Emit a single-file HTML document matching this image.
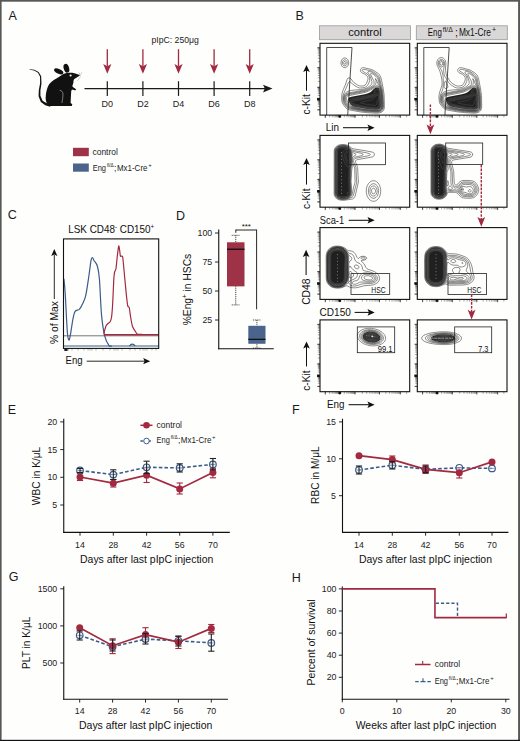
<!DOCTYPE html><html><head><meta charset="utf-8"><style>html,body{margin:0;padding:0;background:#fff;overflow:hidden}svg{display:block}text{font-family:"Liberation Sans",sans-serif}</style></head><body>
<svg width="520" height="741" viewBox="0 0 520 741">
<defs>
<marker id="ah" viewBox="0 0 10 10" refX="10" refY="5" markerWidth="6" markerHeight="6" orient="auto-start-reverse"><path d="M0 0 L10 5 L0 10 Z" fill="#1a1a1a"/></marker>
</defs>
<rect x="0" y="0" width="520" height="741" fill="#fefefd"/>
<text x="8.6" y="19.6" font-size="12.5" fill="#1a1a1a">A</text>
<path d="M49.8 105.9 C46.5 104.5 45.2 100 45.8 96 C46 92 47.5 86 49.8 83.4 C52 81 55 79.3 59.6 76.5 C61 75.6 62 74.8 63 74.2 C66 73 70 72.6 73.5 73 C76 73.6 78 74.4 80 75.3 C78.5 76.5 76.5 77.8 74.6 78.8 C73.6 79.8 73.3 81 73.5 82.2 C73 84 72.5 85.5 72.3 86.3 L73.5 87.4 C74.6 88 75.6 88.8 76.3 89.7 C75.5 90.2 74.6 90.4 73.8 90.1 C73 89.8 72.5 89.4 72.1 89.4 C71.5 90 71.2 91 71.2 91.5 C71 95 70.8 99 70.6 103 C71.5 103.6 72.3 104 72.3 104.7 L71.7 105.9 Z" fill="#111"/>
<path d="M29.55 69.85 L34.07 70.48 L37.96 72.74 L40.04 76.63 L40.11 83.35 L38.79 90.22 L38.57 96.18 L40.84 101.96 L45.28 105.32 L50.15 106.76 L50.85 104.04 L46.32 103.08 L42.56 100.64 L40.43 95.82 L40.41 90.38 L41.49 83.45 L41.16 76.37 L38.64 72.06 L34.33 69.72 L29.65 69.15Z" fill="#111"/>
<ellipse cx="58.7" cy="71.4" rx="5" ry="2.3" transform="rotate(25 58.7 71.4)" fill="#111"/>
<ellipse cx="66.4" cy="68.3" rx="2.7" ry="4.5" transform="rotate(-17 66.4 68.3)" fill="#111"/>
<circle cx="70.6" cy="75.5" r="1.05" fill="#fff"/>
<path d="M59.6 90.3 C61.5 90.6 62.8 91.6 63 94 C63.1 97 62.4 100 61.9 103" fill="none" stroke="#cfcfcf" stroke-width="0.55"/>
<path d="M79.3 73.8 L80.6 76.6 M80.2 77 L77.6 80.8 M80.8 74.6 L81.9 72.2 M79 72.4 L80.2 75" fill="none" stroke="#777" stroke-width="0.35"/>
<line x1="84.5" y1="88.6" x2="266" y2="88.6" stroke="#1a1a1a" stroke-width="1.2"/>
<path d="M272.5 88.6 L263 84.8 L264.8 88.6 L263 92.4 Z" fill="#1a1a1a"/>
<line x1="107.3" y1="81.2" x2="107.3" y2="95.9" stroke="#1a1a1a" stroke-width="1.2"/>
<line x1="107.3" y1="49.2" x2="107.3" y2="66" stroke="#a2293f" stroke-width="1.3"/>
<path d="M103.2 64.0 L107.3 66.2 L111.39999999999999 64.0 L107.3 73.8 Z" fill="#a2293f"/>
<text x="107.3" y="107" font-size="9" text-anchor="middle" fill="#222">D0</text>
<line x1="142.9" y1="81.2" x2="142.9" y2="95.9" stroke="#1a1a1a" stroke-width="1.2"/>
<line x1="142.9" y1="49.2" x2="142.9" y2="66" stroke="#a2293f" stroke-width="1.3"/>
<path d="M138.8 64.0 L142.9 66.2 L147.0 64.0 L142.9 73.8 Z" fill="#a2293f"/>
<text x="142.9" y="107" font-size="9" text-anchor="middle" fill="#222">D2</text>
<line x1="178.5" y1="81.2" x2="178.5" y2="95.9" stroke="#1a1a1a" stroke-width="1.2"/>
<line x1="178.5" y1="49.2" x2="178.5" y2="66" stroke="#a2293f" stroke-width="1.3"/>
<path d="M174.4 64.0 L178.5 66.2 L182.6 64.0 L178.5 73.8 Z" fill="#a2293f"/>
<text x="178.5" y="107" font-size="9" text-anchor="middle" fill="#222">D4</text>
<line x1="214.1" y1="81.2" x2="214.1" y2="95.9" stroke="#1a1a1a" stroke-width="1.2"/>
<line x1="214.1" y1="49.2" x2="214.1" y2="66" stroke="#a2293f" stroke-width="1.3"/>
<path d="M210.0 64.0 L214.1 66.2 L218.2 64.0 L214.1 73.8 Z" fill="#a2293f"/>
<text x="214.1" y="107" font-size="9" text-anchor="middle" fill="#222">D6</text>
<line x1="249.7" y1="81.2" x2="249.7" y2="95.9" stroke="#1a1a1a" stroke-width="1.2"/>
<line x1="249.7" y1="49.2" x2="249.7" y2="66" stroke="#a2293f" stroke-width="1.3"/>
<path d="M245.6 64.0 L249.7 66.2 L253.79999999999998 64.0 L249.7 73.8 Z" fill="#a2293f"/>
<text x="249.7" y="107" font-size="9" text-anchor="middle" fill="#222">D8</text>
<text x="151.5" y="43.4" font-size="9" textLength="47.3" lengthAdjust="spacingAndGlyphs" fill="#222">pIpC: 250μg</text>
<rect x="73" y="147.8" width="15.8" height="8.4" fill="#9e3246"/>
<rect x="73" y="163.5" width="15.8" height="8.2" fill="#4a648c"/>
<text x="92.5" y="155.2" font-size="8.8" textLength="25.3" lengthAdjust="spacingAndGlyphs" fill="#222">control</text>
<text x="92.75" y="171.0" font-size="8.8" textLength="13.25" lengthAdjust="spacingAndGlyphs" fill="#222">Eng</text>
<text x="106.9" y="166.9" font-size="6.0" textLength="6.85" lengthAdjust="spacingAndGlyphs" fill="#222">fl/Δ</text>
<text x="114.05" y="171.0" font-size="8.8" fill="#222">;</text>
<text x="116.9" y="171.0" font-size="8.8" textLength="30.6" lengthAdjust="spacingAndGlyphs" fill="#222">Mx1-Cre</text>
<text x="148.25" y="166.9" font-size="6.0" fill="#222">+</text>
<text x="295.6" y="19.8" font-size="12.5" fill="#1a1a1a">B</text>
<rect x="319.4" y="25.8" width="91" height="13.9" fill="#d9d7d7" stroke="#9a9a9a" stroke-width="0.8"/>
<rect x="416.3" y="25.8" width="91" height="13.9" fill="#d9d7d7" stroke="#9a9a9a" stroke-width="0.8"/>
<text x="365" y="35.9" font-size="10.5" text-anchor="middle" textLength="33.5" lengthAdjust="spacingAndGlyphs" fill="#111">control</text>
<text x="427.8" y="36.1" font-size="10.5" textLength="14" lengthAdjust="spacingAndGlyphs" fill="#111">Eng</text>
<text x="442.8" y="32.0" font-size="7" textLength="10" lengthAdjust="spacingAndGlyphs" fill="#111">fl/Δ</text>
<text x="455.0" y="36.1" font-size="10.5" fill="#111">;</text>
<text x="458.9" y="36.1" font-size="10.5" textLength="32" lengthAdjust="spacingAndGlyphs" fill="#111">Mx1-Cre</text>
<text x="491.9" y="32.0" font-size="7" fill="#111">+</text>
<path d="M325.3 115.1v2.2M329.6 115.1v2.2M332.2 115.1v2.2M334.0 115.1v2.2M335.4 115.1v2.2M336.5 115.1v2.2M337.5 115.1v2.2M338.3 115.1v2.2M339.0 115.1v2.2M339.7 115.1v2.2M344.3 115.1v2.2M347.0 115.1v2.2M348.9 115.1v2.2M350.4 115.1v2.2M351.6 115.1v2.2M352.6 115.1v2.2M353.5 115.1v2.2M354.3 115.1v2.2M355.0 115.1v2.2M362.4 115.1v2.2M366.7 115.1v2.2M369.8 115.1v2.2M372.1 115.1v2.2M374.1 115.1v2.2M375.7 115.1v2.2M377.1 115.1v2.2M378.4 115.1v2.2M379.5 115.1v2.2M385.8 115.1v2.2M389.4 115.1v2.2M392.0 115.1v2.2M394.0 115.1v2.2M395.7 115.1v2.2M397.1 115.1v2.2M398.3 115.1v2.2M399.3 115.1v2.2M400.3 115.1v2.2M406.6 115.1v2.2" fill="none" stroke="#3a3a3a" stroke-width="0.45"/>
<path d="M325.3 115.1v2.8M339.7 115.1v2.8M355.0 115.1v2.8M379.5 115.1v2.8M400.3 115.1v2.8" fill="none" stroke="#222" stroke-width="0.7"/>
<rect x="338.5" y="115.1" width="2.6" height="2.4" fill="#111"/>
<path d="M320.0 109.8h-2.2M320.0 106.6h-2.2M320.0 104.7h-2.2M320.0 103.4h-2.2M320.0 102.3h-2.2M320.0 101.5h-2.2M320.0 100.8h-2.2M320.0 100.1h-2.2M320.0 99.6h-2.2M320.0 99.1h-2.2M320.0 95.5h-2.2M320.0 93.5h-2.2M320.0 92.0h-2.2M320.0 90.9h-2.2M320.0 89.9h-2.2M320.0 89.1h-2.2M320.0 88.4h-2.2M320.0 87.8h-2.2M320.0 87.3h-2.2M320.0 81.4h-2.2M320.0 77.9h-2.2M320.0 75.5h-2.2M320.0 73.6h-2.2M320.0 72.0h-2.2M320.0 70.7h-2.2M320.0 69.6h-2.2M320.0 68.6h-2.2M320.0 67.7h-2.2M320.0 61.7h-2.2M320.0 58.2h-2.2M320.0 55.7h-2.2M320.0 53.8h-2.2M320.0 52.2h-2.2M320.0 50.9h-2.2M320.0 49.7h-2.2M320.0 48.7h-2.2M320.0 47.8h-2.2" fill="none" stroke="#3a3a3a" stroke-width="0.45"/>
<path d="M320.0 109.8h-2.8M320.0 99.1h-2.8M320.0 87.3h-2.8M320.0 67.7h-2.8M320.0 47.8h-2.8" fill="none" stroke="#222" stroke-width="0.7"/>
<rect x="317.1" y="97.89999999999999" width="2.6" height="2.6" fill="#111"/>
<rect x="320.0" y="43.3" width="89.7" height="71.8" fill="none" stroke="#111" stroke-width="1.1"/>
<path d="M325.3 207.2v2.2M329.6 207.2v2.2M332.2 207.2v2.2M334.0 207.2v2.2M335.4 207.2v2.2M336.5 207.2v2.2M337.5 207.2v2.2M338.3 207.2v2.2M339.0 207.2v2.2M339.7 207.2v2.2M344.3 207.2v2.2M347.0 207.2v2.2M348.9 207.2v2.2M350.4 207.2v2.2M351.6 207.2v2.2M352.6 207.2v2.2M353.5 207.2v2.2M354.3 207.2v2.2M355.0 207.2v2.2M362.4 207.2v2.2M366.7 207.2v2.2M369.8 207.2v2.2M372.1 207.2v2.2M374.1 207.2v2.2M375.7 207.2v2.2M377.1 207.2v2.2M378.4 207.2v2.2M379.5 207.2v2.2M385.8 207.2v2.2M389.4 207.2v2.2M392.0 207.2v2.2M394.0 207.2v2.2M395.7 207.2v2.2M397.1 207.2v2.2M398.3 207.2v2.2M399.3 207.2v2.2M400.3 207.2v2.2M406.6 207.2v2.2" fill="none" stroke="#3a3a3a" stroke-width="0.45"/>
<path d="M325.3 207.2v2.8M339.7 207.2v2.8M355.0 207.2v2.8M379.5 207.2v2.8M400.3 207.2v2.8" fill="none" stroke="#222" stroke-width="0.7"/>
<rect x="338.5" y="207.2" width="2.6" height="2.4" fill="#111"/>
<path d="M320.0 201.9h-2.2M320.0 198.7h-2.2M320.0 196.8h-2.2M320.0 195.5h-2.2M320.0 194.4h-2.2M320.0 193.6h-2.2M320.0 192.9h-2.2M320.0 192.2h-2.2M320.0 191.7h-2.2M320.0 191.2h-2.2M320.0 187.6h-2.2M320.0 185.6h-2.2M320.0 184.1h-2.2M320.0 183.0h-2.2M320.0 182.0h-2.2M320.0 181.2h-2.2M320.0 180.5h-2.2M320.0 179.9h-2.2M320.0 179.4h-2.2M320.0 173.5h-2.2M320.0 170.0h-2.2M320.0 167.6h-2.2M320.0 165.7h-2.2M320.0 164.1h-2.2M320.0 162.8h-2.2M320.0 161.7h-2.2M320.0 160.7h-2.2M320.0 159.8h-2.2M320.0 153.8h-2.2M320.0 150.3h-2.2M320.0 147.8h-2.2M320.0 145.9h-2.2M320.0 144.3h-2.2M320.0 143.0h-2.2M320.0 141.8h-2.2M320.0 140.8h-2.2M320.0 139.9h-2.2" fill="none" stroke="#3a3a3a" stroke-width="0.45"/>
<path d="M320.0 201.9h-2.8M320.0 191.2h-2.8M320.0 179.4h-2.8M320.0 159.8h-2.8M320.0 139.9h-2.8" fill="none" stroke="#222" stroke-width="0.7"/>
<rect x="317.1" y="190.0" width="2.6" height="2.6" fill="#111"/>
<rect x="320.0" y="135.4" width="89.7" height="71.8" fill="none" stroke="#111" stroke-width="1.1"/>
<path d="M325.3 299.4v2.2M329.6 299.4v2.2M332.2 299.4v2.2M334.0 299.4v2.2M335.4 299.4v2.2M336.5 299.4v2.2M337.5 299.4v2.2M338.3 299.4v2.2M339.0 299.4v2.2M339.7 299.4v2.2M344.3 299.4v2.2M347.0 299.4v2.2M348.9 299.4v2.2M350.4 299.4v2.2M351.6 299.4v2.2M352.6 299.4v2.2M353.5 299.4v2.2M354.3 299.4v2.2M355.0 299.4v2.2M362.4 299.4v2.2M366.7 299.4v2.2M369.8 299.4v2.2M372.1 299.4v2.2M374.1 299.4v2.2M375.7 299.4v2.2M377.1 299.4v2.2M378.4 299.4v2.2M379.5 299.4v2.2M385.8 299.4v2.2M389.4 299.4v2.2M392.0 299.4v2.2M394.0 299.4v2.2M395.7 299.4v2.2M397.1 299.4v2.2M398.3 299.4v2.2M399.3 299.4v2.2M400.3 299.4v2.2M406.6 299.4v2.2" fill="none" stroke="#3a3a3a" stroke-width="0.45"/>
<path d="M325.3 299.4v2.8M339.7 299.4v2.8M355.0 299.4v2.8M379.5 299.4v2.8M400.3 299.4v2.8" fill="none" stroke="#222" stroke-width="0.7"/>
<rect x="338.5" y="299.4" width="2.6" height="2.4" fill="#111"/>
<path d="M320.0 294.1h-2.2M320.0 290.9h-2.2M320.0 289.0h-2.2M320.0 287.7h-2.2M320.0 286.6h-2.2M320.0 285.8h-2.2M320.0 285.1h-2.2M320.0 284.4h-2.2M320.0 283.9h-2.2M320.0 283.4h-2.2M320.0 279.8h-2.2M320.0 277.8h-2.2M320.0 276.3h-2.2M320.0 275.2h-2.2M320.0 274.2h-2.2M320.0 273.4h-2.2M320.0 272.7h-2.2M320.0 272.1h-2.2M320.0 271.6h-2.2M320.0 265.7h-2.2M320.0 262.2h-2.2M320.0 259.8h-2.2M320.0 257.9h-2.2M320.0 256.3h-2.2M320.0 255.0h-2.2M320.0 253.9h-2.2M320.0 252.9h-2.2M320.0 252.0h-2.2M320.0 246.0h-2.2M320.0 242.5h-2.2M320.0 240.0h-2.2M320.0 238.1h-2.2M320.0 236.5h-2.2M320.0 235.2h-2.2M320.0 234.0h-2.2M320.0 233.0h-2.2M320.0 232.1h-2.2" fill="none" stroke="#3a3a3a" stroke-width="0.45"/>
<path d="M320.0 294.1h-2.8M320.0 283.4h-2.8M320.0 271.6h-2.8M320.0 252.0h-2.8M320.0 232.1h-2.8" fill="none" stroke="#222" stroke-width="0.7"/>
<rect x="317.1" y="282.2" width="2.6" height="2.6" fill="#111"/>
<rect x="320.0" y="227.6" width="89.7" height="71.8" fill="none" stroke="#111" stroke-width="1.1"/>
<path d="M325.3 391.7v2.2M329.6 391.7v2.2M332.2 391.7v2.2M334.0 391.7v2.2M335.4 391.7v2.2M336.5 391.7v2.2M337.5 391.7v2.2M338.3 391.7v2.2M339.0 391.7v2.2M339.7 391.7v2.2M344.3 391.7v2.2M347.0 391.7v2.2M348.9 391.7v2.2M350.4 391.7v2.2M351.6 391.7v2.2M352.6 391.7v2.2M353.5 391.7v2.2M354.3 391.7v2.2M355.0 391.7v2.2M362.4 391.7v2.2M366.7 391.7v2.2M369.8 391.7v2.2M372.1 391.7v2.2M374.1 391.7v2.2M375.7 391.7v2.2M377.1 391.7v2.2M378.4 391.7v2.2M379.5 391.7v2.2M385.8 391.7v2.2M389.4 391.7v2.2M392.0 391.7v2.2M394.0 391.7v2.2M395.7 391.7v2.2M397.1 391.7v2.2M398.3 391.7v2.2M399.3 391.7v2.2M400.3 391.7v2.2M406.6 391.7v2.2" fill="none" stroke="#3a3a3a" stroke-width="0.45"/>
<path d="M325.3 391.7v2.8M339.7 391.7v2.8M355.0 391.7v2.8M379.5 391.7v2.8M400.3 391.7v2.8" fill="none" stroke="#222" stroke-width="0.7"/>
<rect x="338.5" y="391.7" width="2.6" height="2.4" fill="#111"/>
<path d="M320.0 386.4h-2.2M320.0 383.2h-2.2M320.0 381.3h-2.2M320.0 380.0h-2.2M320.0 378.9h-2.2M320.0 378.1h-2.2M320.0 377.4h-2.2M320.0 376.7h-2.2M320.0 376.2h-2.2M320.0 375.7h-2.2M320.0 372.1h-2.2M320.0 370.1h-2.2M320.0 368.6h-2.2M320.0 367.5h-2.2M320.0 366.5h-2.2M320.0 365.7h-2.2M320.0 365.0h-2.2M320.0 364.4h-2.2M320.0 363.9h-2.2M320.0 358.0h-2.2M320.0 354.5h-2.2M320.0 352.1h-2.2M320.0 350.2h-2.2M320.0 348.6h-2.2M320.0 347.3h-2.2M320.0 346.2h-2.2M320.0 345.2h-2.2M320.0 344.3h-2.2M320.0 338.3h-2.2M320.0 334.8h-2.2M320.0 332.3h-2.2M320.0 330.4h-2.2M320.0 328.8h-2.2M320.0 327.5h-2.2M320.0 326.3h-2.2M320.0 325.3h-2.2M320.0 324.4h-2.2" fill="none" stroke="#3a3a3a" stroke-width="0.45"/>
<path d="M320.0 386.4h-2.8M320.0 375.7h-2.8M320.0 363.9h-2.8M320.0 344.3h-2.8M320.0 324.4h-2.8" fill="none" stroke="#222" stroke-width="0.7"/>
<rect x="317.1" y="374.5" width="2.6" height="2.6" fill="#111"/>
<rect x="320.0" y="319.9" width="89.7" height="71.8" fill="none" stroke="#111" stroke-width="1.1"/>
<path d="M422.6 115.1v2.2M426.9 115.1v2.2M429.5 115.1v2.2M431.3 115.1v2.2M432.7 115.1v2.2M433.8 115.1v2.2M434.8 115.1v2.2M435.6 115.1v2.2M436.3 115.1v2.2M437.0 115.1v2.2M441.6 115.1v2.2M444.3 115.1v2.2M446.2 115.1v2.2M447.7 115.1v2.2M448.9 115.1v2.2M449.9 115.1v2.2M450.8 115.1v2.2M451.6 115.1v2.2M452.3 115.1v2.2M459.7 115.1v2.2M464.0 115.1v2.2M467.1 115.1v2.2M469.4 115.1v2.2M471.4 115.1v2.2M473.0 115.1v2.2M474.4 115.1v2.2M475.7 115.1v2.2M476.8 115.1v2.2M483.1 115.1v2.2M486.7 115.1v2.2M489.3 115.1v2.2M491.3 115.1v2.2M493.0 115.1v2.2M494.4 115.1v2.2M495.6 115.1v2.2M496.6 115.1v2.2M497.6 115.1v2.2M503.9 115.1v2.2" fill="none" stroke="#3a3a3a" stroke-width="0.45"/>
<path d="M422.6 115.1v2.8M437.0 115.1v2.8M452.3 115.1v2.8M476.8 115.1v2.8M497.6 115.1v2.8" fill="none" stroke="#222" stroke-width="0.7"/>
<rect x="435.8" y="115.1" width="2.6" height="2.4" fill="#111"/>
<path d="M417.3 109.8h-2.2M417.3 106.6h-2.2M417.3 104.7h-2.2M417.3 103.4h-2.2M417.3 102.3h-2.2M417.3 101.5h-2.2M417.3 100.8h-2.2M417.3 100.1h-2.2M417.3 99.6h-2.2M417.3 99.1h-2.2M417.3 95.5h-2.2M417.3 93.5h-2.2M417.3 92.0h-2.2M417.3 90.9h-2.2M417.3 89.9h-2.2M417.3 89.1h-2.2M417.3 88.4h-2.2M417.3 87.8h-2.2M417.3 87.3h-2.2M417.3 81.4h-2.2M417.3 77.9h-2.2M417.3 75.5h-2.2M417.3 73.6h-2.2M417.3 72.0h-2.2M417.3 70.7h-2.2M417.3 69.6h-2.2M417.3 68.6h-2.2M417.3 67.7h-2.2M417.3 61.7h-2.2M417.3 58.2h-2.2M417.3 55.7h-2.2M417.3 53.8h-2.2M417.3 52.2h-2.2M417.3 50.9h-2.2M417.3 49.7h-2.2M417.3 48.7h-2.2M417.3 47.8h-2.2" fill="none" stroke="#3a3a3a" stroke-width="0.45"/>
<path d="M417.3 109.8h-2.8M417.3 99.1h-2.8M417.3 87.3h-2.8M417.3 67.7h-2.8M417.3 47.8h-2.8" fill="none" stroke="#222" stroke-width="0.7"/>
<rect x="414.40000000000003" y="97.89999999999999" width="2.6" height="2.6" fill="#111"/>
<rect x="417.3" y="43.3" width="89.7" height="71.8" fill="none" stroke="#111" stroke-width="1.1"/>
<path d="M422.6 207.2v2.2M426.9 207.2v2.2M429.5 207.2v2.2M431.3 207.2v2.2M432.7 207.2v2.2M433.8 207.2v2.2M434.8 207.2v2.2M435.6 207.2v2.2M436.3 207.2v2.2M437.0 207.2v2.2M441.6 207.2v2.2M444.3 207.2v2.2M446.2 207.2v2.2M447.7 207.2v2.2M448.9 207.2v2.2M449.9 207.2v2.2M450.8 207.2v2.2M451.6 207.2v2.2M452.3 207.2v2.2M459.7 207.2v2.2M464.0 207.2v2.2M467.1 207.2v2.2M469.4 207.2v2.2M471.4 207.2v2.2M473.0 207.2v2.2M474.4 207.2v2.2M475.7 207.2v2.2M476.8 207.2v2.2M483.1 207.2v2.2M486.7 207.2v2.2M489.3 207.2v2.2M491.3 207.2v2.2M493.0 207.2v2.2M494.4 207.2v2.2M495.6 207.2v2.2M496.6 207.2v2.2M497.6 207.2v2.2M503.9 207.2v2.2" fill="none" stroke="#3a3a3a" stroke-width="0.45"/>
<path d="M422.6 207.2v2.8M437.0 207.2v2.8M452.3 207.2v2.8M476.8 207.2v2.8M497.6 207.2v2.8" fill="none" stroke="#222" stroke-width="0.7"/>
<rect x="435.8" y="207.2" width="2.6" height="2.4" fill="#111"/>
<path d="M417.3 201.9h-2.2M417.3 198.7h-2.2M417.3 196.8h-2.2M417.3 195.5h-2.2M417.3 194.4h-2.2M417.3 193.6h-2.2M417.3 192.9h-2.2M417.3 192.2h-2.2M417.3 191.7h-2.2M417.3 191.2h-2.2M417.3 187.6h-2.2M417.3 185.6h-2.2M417.3 184.1h-2.2M417.3 183.0h-2.2M417.3 182.0h-2.2M417.3 181.2h-2.2M417.3 180.5h-2.2M417.3 179.9h-2.2M417.3 179.4h-2.2M417.3 173.5h-2.2M417.3 170.0h-2.2M417.3 167.6h-2.2M417.3 165.7h-2.2M417.3 164.1h-2.2M417.3 162.8h-2.2M417.3 161.7h-2.2M417.3 160.7h-2.2M417.3 159.8h-2.2M417.3 153.8h-2.2M417.3 150.3h-2.2M417.3 147.8h-2.2M417.3 145.9h-2.2M417.3 144.3h-2.2M417.3 143.0h-2.2M417.3 141.8h-2.2M417.3 140.8h-2.2M417.3 139.9h-2.2" fill="none" stroke="#3a3a3a" stroke-width="0.45"/>
<path d="M417.3 201.9h-2.8M417.3 191.2h-2.8M417.3 179.4h-2.8M417.3 159.8h-2.8M417.3 139.9h-2.8" fill="none" stroke="#222" stroke-width="0.7"/>
<rect x="414.40000000000003" y="190.0" width="2.6" height="2.6" fill="#111"/>
<rect x="417.3" y="135.4" width="89.7" height="71.8" fill="none" stroke="#111" stroke-width="1.1"/>
<path d="M422.6 299.4v2.2M426.9 299.4v2.2M429.5 299.4v2.2M431.3 299.4v2.2M432.7 299.4v2.2M433.8 299.4v2.2M434.8 299.4v2.2M435.6 299.4v2.2M436.3 299.4v2.2M437.0 299.4v2.2M441.6 299.4v2.2M444.3 299.4v2.2M446.2 299.4v2.2M447.7 299.4v2.2M448.9 299.4v2.2M449.9 299.4v2.2M450.8 299.4v2.2M451.6 299.4v2.2M452.3 299.4v2.2M459.7 299.4v2.2M464.0 299.4v2.2M467.1 299.4v2.2M469.4 299.4v2.2M471.4 299.4v2.2M473.0 299.4v2.2M474.4 299.4v2.2M475.7 299.4v2.2M476.8 299.4v2.2M483.1 299.4v2.2M486.7 299.4v2.2M489.3 299.4v2.2M491.3 299.4v2.2M493.0 299.4v2.2M494.4 299.4v2.2M495.6 299.4v2.2M496.6 299.4v2.2M497.6 299.4v2.2M503.9 299.4v2.2" fill="none" stroke="#3a3a3a" stroke-width="0.45"/>
<path d="M422.6 299.4v2.8M437.0 299.4v2.8M452.3 299.4v2.8M476.8 299.4v2.8M497.6 299.4v2.8" fill="none" stroke="#222" stroke-width="0.7"/>
<rect x="435.8" y="299.4" width="2.6" height="2.4" fill="#111"/>
<path d="M417.3 294.1h-2.2M417.3 290.9h-2.2M417.3 289.0h-2.2M417.3 287.7h-2.2M417.3 286.6h-2.2M417.3 285.8h-2.2M417.3 285.1h-2.2M417.3 284.4h-2.2M417.3 283.9h-2.2M417.3 283.4h-2.2M417.3 279.8h-2.2M417.3 277.8h-2.2M417.3 276.3h-2.2M417.3 275.2h-2.2M417.3 274.2h-2.2M417.3 273.4h-2.2M417.3 272.7h-2.2M417.3 272.1h-2.2M417.3 271.6h-2.2M417.3 265.7h-2.2M417.3 262.2h-2.2M417.3 259.8h-2.2M417.3 257.9h-2.2M417.3 256.3h-2.2M417.3 255.0h-2.2M417.3 253.9h-2.2M417.3 252.9h-2.2M417.3 252.0h-2.2M417.3 246.0h-2.2M417.3 242.5h-2.2M417.3 240.0h-2.2M417.3 238.1h-2.2M417.3 236.5h-2.2M417.3 235.2h-2.2M417.3 234.0h-2.2M417.3 233.0h-2.2M417.3 232.1h-2.2" fill="none" stroke="#3a3a3a" stroke-width="0.45"/>
<path d="M417.3 294.1h-2.8M417.3 283.4h-2.8M417.3 271.6h-2.8M417.3 252.0h-2.8M417.3 232.1h-2.8" fill="none" stroke="#222" stroke-width="0.7"/>
<rect x="414.40000000000003" y="282.2" width="2.6" height="2.6" fill="#111"/>
<rect x="417.3" y="227.6" width="89.7" height="71.8" fill="none" stroke="#111" stroke-width="1.1"/>
<path d="M422.6 391.7v2.2M426.9 391.7v2.2M429.5 391.7v2.2M431.3 391.7v2.2M432.7 391.7v2.2M433.8 391.7v2.2M434.8 391.7v2.2M435.6 391.7v2.2M436.3 391.7v2.2M437.0 391.7v2.2M441.6 391.7v2.2M444.3 391.7v2.2M446.2 391.7v2.2M447.7 391.7v2.2M448.9 391.7v2.2M449.9 391.7v2.2M450.8 391.7v2.2M451.6 391.7v2.2M452.3 391.7v2.2M459.7 391.7v2.2M464.0 391.7v2.2M467.1 391.7v2.2M469.4 391.7v2.2M471.4 391.7v2.2M473.0 391.7v2.2M474.4 391.7v2.2M475.7 391.7v2.2M476.8 391.7v2.2M483.1 391.7v2.2M486.7 391.7v2.2M489.3 391.7v2.2M491.3 391.7v2.2M493.0 391.7v2.2M494.4 391.7v2.2M495.6 391.7v2.2M496.6 391.7v2.2M497.6 391.7v2.2M503.9 391.7v2.2" fill="none" stroke="#3a3a3a" stroke-width="0.45"/>
<path d="M422.6 391.7v2.8M437.0 391.7v2.8M452.3 391.7v2.8M476.8 391.7v2.8M497.6 391.7v2.8" fill="none" stroke="#222" stroke-width="0.7"/>
<rect x="435.8" y="391.7" width="2.6" height="2.4" fill="#111"/>
<path d="M417.3 386.4h-2.2M417.3 383.2h-2.2M417.3 381.3h-2.2M417.3 380.0h-2.2M417.3 378.9h-2.2M417.3 378.1h-2.2M417.3 377.4h-2.2M417.3 376.7h-2.2M417.3 376.2h-2.2M417.3 375.7h-2.2M417.3 372.1h-2.2M417.3 370.1h-2.2M417.3 368.6h-2.2M417.3 367.5h-2.2M417.3 366.5h-2.2M417.3 365.7h-2.2M417.3 365.0h-2.2M417.3 364.4h-2.2M417.3 363.9h-2.2M417.3 358.0h-2.2M417.3 354.5h-2.2M417.3 352.1h-2.2M417.3 350.2h-2.2M417.3 348.6h-2.2M417.3 347.3h-2.2M417.3 346.2h-2.2M417.3 345.2h-2.2M417.3 344.3h-2.2M417.3 338.3h-2.2M417.3 334.8h-2.2M417.3 332.3h-2.2M417.3 330.4h-2.2M417.3 328.8h-2.2M417.3 327.5h-2.2M417.3 326.3h-2.2M417.3 325.3h-2.2M417.3 324.4h-2.2" fill="none" stroke="#3a3a3a" stroke-width="0.45"/>
<path d="M417.3 386.4h-2.8M417.3 375.7h-2.8M417.3 363.9h-2.8M417.3 344.3h-2.8M417.3 324.4h-2.8" fill="none" stroke="#222" stroke-width="0.7"/>
<rect x="414.40000000000003" y="374.5" width="2.6" height="2.6" fill="#111"/>
<rect x="417.3" y="319.9" width="89.7" height="71.8" fill="none" stroke="#111" stroke-width="1.1"/>
<text x="310.4" y="114.6" font-size="10.5" textLength="20.5" lengthAdjust="spacingAndGlyphs" transform="rotate(-90 310.4 114.6)" fill="#111">c-Kit</text>
<line x1="306.5" y1="90.7" x2="306.5" y2="69.9" stroke="#111" stroke-width="1.05"/>
<path d="M306.5 64.9 L303.2 72.10000000000001 L306.5 70.60000000000001 L309.79999999999995 72.10000000000001 Z" fill="#111"/>
<text x="310.4" y="209.0" font-size="10.5" textLength="20.5" lengthAdjust="spacingAndGlyphs" transform="rotate(-90 310.4 209.0)" fill="#111">c-Kit</text>
<line x1="306.5" y1="184.6" x2="306.5" y2="162.9" stroke="#111" stroke-width="1.05"/>
<path d="M306.5 157.9 L303.2 165.1 L306.5 163.6 L309.79999999999995 165.1 Z" fill="#111"/>
<text x="310.0" y="304.8" font-size="10.5" textLength="26.2" lengthAdjust="spacingAndGlyphs" transform="rotate(-90 310.0 304.8)" fill="#111">CD48</text>
<line x1="306.1" y1="275.1" x2="306.1" y2="254.8" stroke="#111" stroke-width="1.05"/>
<path d="M306.1 249.8 L302.8 257.0 L306.1 255.5 L309.4 257.0 Z" fill="#111"/>
<text x="310.4" y="390.8" font-size="10.5" textLength="20.5" lengthAdjust="spacingAndGlyphs" transform="rotate(-90 310.4 390.8)" fill="#111">c-Kit</text>
<line x1="306.5" y1="366.4" x2="306.5" y2="346.4" stroke="#111" stroke-width="1.05"/>
<path d="M306.5 341.4 L303.2 348.59999999999997 L306.5 347.09999999999997 L309.79999999999995 348.59999999999997 Z" fill="#111"/>
<text x="325.8" y="131.3" font-size="10.5" textLength="13.2" lengthAdjust="spacingAndGlyphs" fill="#111">Lin</text>
<line x1="343" y1="127.7" x2="371.6" y2="127.7" stroke="#111" stroke-width="1.05"/>
<path d="M374.6 127.7 L367.40000000000003 124.4 L368.90000000000003 127.7 L367.40000000000003 131.0 Z" fill="#111"/>
<text x="319.8" y="223.6" font-size="10.5" textLength="24.3" lengthAdjust="spacingAndGlyphs" fill="#111">Sca-1</text>
<line x1="348.7" y1="220.3" x2="371.7" y2="220.3" stroke="#111" stroke-width="1.05"/>
<path d="M374.7 220.3 L367.5 217.0 L369.0 220.3 L367.5 223.60000000000002 Z" fill="#111"/>
<text x="319.6" y="315.6" font-size="10.5" textLength="31.3" lengthAdjust="spacingAndGlyphs" fill="#111">CD150</text>
<line x1="354.6" y1="312.4" x2="371.7" y2="312.4" stroke="#111" stroke-width="1.05"/>
<path d="M374.7 312.4 L367.5 309.09999999999997 L369.0 312.4 L367.5 315.7 Z" fill="#111"/>
<text x="326.9" y="408.2" font-size="10.5" textLength="17.5" lengthAdjust="spacingAndGlyphs" fill="#111">Eng</text>
<line x1="348.6" y1="404.7" x2="371.6" y2="404.7" stroke="#111" stroke-width="1.05"/>
<path d="M374.6 404.7 L367.40000000000003 401.4 L368.90000000000003 404.7 L367.40000000000003 408.0 Z" fill="#111"/>
<path transform="scale(.1)" d="M3762 876l8 -2 8 1 7 5 5 6 6 14 11 53 3 107 -5 20 -10 11 -13 5 -17 1 -73 -4 -67 -10 -67 -13 -23 -6 -15 -7 -13 -11 -14 -20 -7 -18 -3 -17 2 -11 7 -6 23 -7 133 -25 34 -10 26 -12 33 -32 19 -12z" fill="#202020"/>
<path transform="scale(.1)" d="M3438 580l14 -1 16 7 11 12 7 20 0 20 -7 20 -11 12 -16 7 -14 -2 -13 -7 -9 -12 -6 -18 0 -18 5 -17 10 -15 13 -8M3622 678l13 -2 17 4 48 11 30 10 54 35 11 12 11 20 10 35 15 77 10 66 3 107 -1 27 -5 18 -10 15 -18 11 -20 6 -22 2 -93 -5 -67 -7 -110 -20 -23 -8 -15 -12 -24 -30 -12 -20 -6 -20 -2 -32 1 -22 4 -23 11 -35 25 -58 12 -42 9 -15 12 -5 12 4 8 7 20 27 12 12 33 22 20 9 23 2 22 -4 12 -7 12 -15 14 -35 2 -12 -2 -15 -5 -10 -11 -11 -12 -9 -32 -16 -10 -9 -4 -10 1 -12 6 -10 11 -8M3442 598l10 0 10 5 7 10 3 10 0 13 -4 10 -8 9 -10 4 -10 -2 -8 -5 -5 -9 -3 -10 0 -13 4 -10 7 -8 7 -4M3626 696l6 -3 18 2 53 11 22 7 50 35 10 12 11 20 16 70 10 38 9 58 4 100 -1 30 -4 17 -10 14 -15 9 -20 6 -20 1 -95 -6 -62 -7 -106 -20 -20 -7 -14 -11 -23 -26 -12 -21 -4 -15 -1 -17 0 -25 3 -18 53 -122 6 -10 5 -2 7 3 27 24 26 18 23 13 17 6 27 -1 28 -6 17 -10 12 -15 11 -22 7 -20 0 -18 -4 -18 -5 -12 -18 -19 -46 -29 -2 -7 4 -7M3442 616l6 -2 4 1 7 8 -1 13 -8 6 -8 -1 -5 -8 0 -10 5 -7M3679 718l11 -2 10 1 15 3 7 3 44 33 15 17 9 17 11 56 15 44 9 56 5 102 -2 28 -5 17 -11 12 -17 8 -15 3 -20 1 -100 -7 -52 -7 -100 -19 -20 -8 -16 -10 -24 -30 -10 -20 -4 -33 4 -27 10 -19 20 -17 22 -10 28 -6 30 -4 57 -4 43 -8 28 -12 21 -16 14 -12 7 -12 1 -20 -9 -31 -13 -32 -20 -27 0 -6 2 -2M3707 736l3 -3 8 2 15 8 25 20 15 17 8 13 13 55 15 35 5 22 8 58 3 97 -3 20 -5 13 -7 7 -8 5 -22 7 -25 0 -68 -4 -69 -8 -80 -15 -33 -9 -20 -10 -12 -10 -15 -18 -8 -12 -6 -13 -3 -17 0 -23 3 -15 6 -10 10 -10 18 -7 150 -28 24 -6 32 -14 47 -27 7 -8 3 -8 -1 -30 -12 -20 -15 -30 -6 -14 0 -10M3752 788l3 -1 1 3 4 1 2 5 3 2 15 42 21 36 8 24 9 58 3 90 -2 30 -4 10 -6 8 -17 9 -27 3 -80 -5 -60 -7 -80 -15 -25 -6 -26 -12 -17 -15 -20 -25 -8 -20 -2 -17 1 -16 4 -12 6 -8 10 -6 14 -5 171 -33 25 -10 42 -23 25 -15 11 -12 4 -18 0 -25 -8 -15M3763 858l9 -2 8 4 9 8 7 10 8 22 9 50 4 90 0 26 -6 20 -5 7 -8 6 -16 4 -17 2 -80 -6 -67 -8 -83 -17 -20 -7 -17 -11 -24 -26 -14 -19 -6 -18 0 -20 6 -14 10 -8 18 -5 140 -27 30 -7 40 -18 65 -36M3763 868l9 -1 8 2 8 7 7 9 5 15 10 53 4 87 -1 26 -5 18 -6 6 -8 6 -14 4 -18 1 -80 -6 -67 -9 -80 -17 -17 -8 -14 -11 -21 -25 -15 -25 -4 -12 0 -12 4 -10 7 -6 15 -4 138 -27 32 -8 38 -16 49 -29 16 -8" fill="none" stroke="#1c1c1c" stroke-width="5.0"/>
<path transform="scale(.1)" d="M3765 883l13 0 4 3 6 7 5 15 11 50 2 100 -5 20 -9 10 -17 5 -25 0 -72 -6 -72 -12 -56 -12 -18 -5 -15 -10 -13 -18 -6 -14 0 -13 7 -9 10 -6 15 -4 166 -31 21 -5 12 -5 6 -5 6 -8 4 -25 4 -9 7 -8 9 -5M3769 893l9 1 7 9 16 57 1 98 -5 18 -9 9 -16 4 -22 0 -70 -6 -62 -10 -80 -19 -16 -9 -11 -15 -4 -12 1 -9 4 -7 10 -6 173 -33 25 -6 15 -6 9 -5 8 -10 5 -13 3 -20 5 -7 4 -3M3772 928l6 -2 7 8 9 16 3 16 -1 37 1 37 -1 18 -5 15 -4 5 -7 4 -22 2 -63 -5 -85 -14 -70 -17 -15 -10 -8 -12 -1 -8 2 -8 6 -5 8 -3 123 -23 75 -17 24 -14 18 -20M3771 946l7 -2 8 4 5 8 2 12 -4 38 0 50 -5 12 -9 7 -17 2 -53 -4 -78 -13 -79 -19 -13 -7 -6 -8 -1 -6 3 -4 11 -6 98 -18 85 -18 15 -7 31 -21M3769 956l9 -2 4 2 5 10 0 10 -5 17 -11 27 -6 26 -7 7 -8 1 -17 -1 -69 -10 -46 -10 -12 -5 -1 -2 9 -5 88 -19 18 -5 15 -10 24 -24 10 -7" fill="none" stroke="#5a5a5a" stroke-width="4"/>
<path transform="scale(.1)" d="M4735 876l8 -2 7 1 8 5 5 6 6 14 11 53 3 107 -5 20 -10 11 -12 5 -18 1 -72 -4 -68 -10 -68 -13 -22 -6 -15 -7 -13 -11 -14 -20 -7 -18 -3 -17 2 -11 8 -6 22 -7 132 -25 36 -10 24 -12 34 -32 19 -12z" fill="#202020"/>
<path transform="scale(.1)" d="M4403 576l15 -1 15 6 13 12 9 17 4 23 -4 47 1 26 5 32 7 22 28 46 11 14 22 18 29 18 15 4 15 1 20 -3 12 -5 10 -7 7 -11 9 -19 6 -18 1 -12 -2 -13 -9 -15 -19 -15 -33 -16 -10 -11 -3 -10 2 -13 5 -7 9 -7 13 -3 12 2 80 21 50 30 11 9 9 10 11 20 8 25 17 87 11 73 2 100 -1 25 -6 22 -7 10 -7 7 -26 11 -30 4 -94 -6 -70 -7 -96 -17 -27 -8 -20 -14 -24 -30 -10 -15 -6 -17 -4 -55 3 -20 5 -23 21 -60 3 -22 -1 -30 -6 -38 -14 -54 -9 -23 -20 -40 -3 -20 2 -20 8 -17 11 -13 14 -7M4407 593l14 1 9 6 10 10 5 13 1 15 -9 52 0 26 5 32 6 15 22 33 13 25 10 13 20 17 35 22 18 6 17 1 27 -3 19 -7 11 -7 11 -13 17 -37 2 -13 0 -12 -8 -28 -19 -21 -46 -29 -2 -4 0 -6 5 -5 6 -2 17 2 70 16 43 27 20 20 11 17 6 15 10 53 12 45 10 65 3 95 0 25 -6 23 -12 13 -22 11 -30 3 -92 -6 -68 -7 -82 -16 -36 -9 -19 -12 -21 -25 -10 -15 -6 -15 -3 -18 -1 -27 5 -27 20 -46 4 -15 5 -57 -3 -70 -12 -48 -12 -22 -20 -32 -5 -13 -1 -10 1 -13 6 -13 9 -9 10 -5M4408 606l10 0 8 4 7 8 3 10 1 10 -4 18 -5 9 -8 7 -10 -3 -8 -9 -9 -13 -3 -9 0 -10 3 -10 7 -9 8 -3M4652 718l11 -2 10 1 15 3 8 3 43 33 15 17 9 17 11 56 15 44 9 56 5 102 -2 28 -5 17 -10 12 -18 8 -15 3 -20 1 -100 -7 -53 -7 -100 -19 -20 -8 -15 -10 -24 -30 -10 -20 -4 -33 4 -27 9 -19 20 -17 23 -10 25 -6 32 -4 58 -4 42 -8 29 -12 21 -16 14 -12 7 -12 1 -20 -9 -31 -13 -32 -20 -27 0 -6 2 -2M4450 813l3 -2 3 1 7 10 16 41 -1 7 -3 8 -5 5 -7 4 -7 -1 -8 -4 -5 -7 -3 -7 5 -37 5 -18M4407 618l6 -2 5 2 5 3 4 7 0 12 -4 8 -5 4 -5 0 -5 -2 -9 -12 1 -12 7 -8M4680 736l3 -3 7 2 16 8 25 20 15 17 8 13 13 55 15 35 5 22 8 58 3 97 -3 20 -5 13 -7 7 -7 5 -23 7 -25 0 -68 -4 -69 -8 -81 -15 -32 -9 -20 -10 -12 -10 -15 -18 -8 -12 -6 -13 -3 -17 0 -23 3 -15 6 -10 10 -10 17 -7 150 -28 26 -6 31 -14 47 -27 7 -8 3 -8 -1 -30 -12 -20 -15 -30 -6 -14 0 -10M4725 788l3 -1 1 3 4 1 2 5 3 2 15 42 21 36 8 24 9 58 3 90 -2 30 -4 10 -6 8 -16 9 -28 3 -80 -5 -60 -7 -80 -15 -25 -6 -26 -12 -17 -15 -20 -25 -8 -20 -2 -17 1 -16 4 -12 6 -8 9 -6 16 -5 170 -33 24 -10 43 -23 25 -15 11 -12 4 -18 0 -25 -8 -15M4736 858l10 -2 7 4 9 8 7 10 8 22 9 50 4 90 0 26 -6 20 -5 7 -9 6 -14 4 -18 2 -80 -6 -68 -8 -82 -17 -20 -7 -17 -11 -24 -26 -14 -19 -6 -18 0 -20 6 -14 10 -8 17 -5 140 -27 31 -7 39 -18 66 -36M4736 868l10 -1 7 2 8 7 7 9 5 15 10 53 4 87 -1 26 -6 18 -5 6 -8 6 -14 4 -17 1 -80 -6 -68 -9 -80 -17 -18 -8 -13 -11 -21 -25 -15 -25 -4 -12 0 -12 3 -10 8 -6 15 -4 137 -27 33 -8 37 -16 50 -29 16 -8" fill="none" stroke="#1c1c1c" stroke-width="5.0"/>
<path transform="scale(.1)" d="M4738 883l12 0 6 3 5 7 5 15 11 50 2 100 -5 20 -9 10 -17 5 -25 0 -73 -6 -71 -12 -56 -12 -17 -5 -16 -10 -13 -18 -6 -14 0 -13 7 -9 10 -6 15 -4 166 -31 21 -5 12 -5 6 -5 6 -8 4 -25 4 -9 7 -8 9 -5M4742 893l8 1 8 9 16 57 1 98 -5 18 -10 9 -14 4 -23 0 -70 -6 -62 -10 -81 -19 -14 -9 -12 -15 -4 -12 1 -9 5 -7 10 -6 172 -33 25 -6 15 -6 9 -5 9 -10 4 -13 3 -20 5 -7 4 -3M4745 928l5 -2 8 8 9 16 3 16 -1 37 1 37 -1 18 -5 15 -4 5 -7 4 -23 2 -62 -5 -85 -14 -70 -17 -15 -10 -8 -12 -1 -8 2 -8 6 -5 9 -3 122 -23 75 -17 24 -14 18 -20M4744 946l6 -2 9 4 5 8 2 12 -4 38 0 50 -5 12 -9 7 -18 2 -52 -4 -78 -13 -80 -19 -12 -7 -6 -8 -1 -6 3 -4 12 -6 97 -18 85 -18 15 -7 31 -21M4742 956l8 -2 6 2 4 10 0 10 -4 17 -12 27 -6 26 -7 7 -8 1 -17 -1 -69 -10 -46 -10 -12 -5 -1 -2 9 -5 89 -19 17 -5 15 -10 24 -24 10 -7" fill="none" stroke="#5a5a5a" stroke-width="4"/>
<path transform="scale(.1)" d="M3407 1469l21 -2 22 1 18 5 12 6 12 12 10 15 9 23 4 17 -5 58 -1 50 -5 35 -2 45 -2 82 5 93 -1 30 -6 17 -13 12 -20 8 -23 4 -34 -1 -23 -8 -9 -7 -6 -8 -5 -9 -2 -13 1 -423 3 -15 9 -12 12 -9 17 -6z" fill="#202020"/>
<path transform="scale(.1)" d="M3407 1446l35 -1 28 5 20 9 28 23 14 6 136 22 60 12 7 4 5 6 4 12 -1 8 -4 7 -11 9 -60 12 -90 15 -16 6 -5 5 -2 10 2 10 16 38 3 10 8 147 -33 141 -5 9 -5 8 -16 11 -83 13 -22 0 -20 -3 -18 -5 -12 -7 -11 -9 -9 -12 -7 -15 -2 -16 1 -430 6 -22 13 -18 21 -13 25 -7M3721 1809l14 -2 15 2 15 7 13 11 11 15 8 14 6 20 4 20 0 23 -3 20 -5 20 -7 15 -11 15 -13 13 -13 7 -15 4 -15 -1 -13 -4 -12 -8 -10 -9 -10 -15 -8 -14 -5 -18 -4 -20 1 -38 5 -20 8 -17 9 -15 12 -12 12 -9 11 -4M3403 1454l35 -2 27 4 13 5 12 7 28 28 12 8 135 24 28 8 10 8 -2 5 -6 4 -23 7 -112 22 -15 7 -7 7 -2 13 1 10 23 57 7 150 -34 130 -3 8 -8 7 -12 6 -38 14 -27 5 -40 -2 -15 -3 -15 -8 -11 -9 -8 -10 -5 -12 -3 -16 0 -430 5 -17 12 -16 17 -12 21 -7M3722 1839l10 -2 10 1 10 3 10 7 8 8 8 13 8 28 -1 30 -9 27 -6 10 -10 10 -10 6 -10 3 -10 0 -10 -3 -10 -6 -8 -7 -12 -21 -6 -24 1 -28 7 -25 13 -19 17 -11M3419 1456l31 1 22 6 21 13 24 31 11 8 80 17 14 5 10 7 -2 5 -15 7 -70 17 -9 6 -6 7 -5 18 2 20 6 22 14 33 4 143 -15 50 -13 67 -6 20 -15 13 -22 11 -22 6 -23 3 -20 -1 -17 -3 -13 -4 -12 -8 -10 -10 -6 -10 -4 -12 -1 -15 1 -423 7 -20 13 -14 19 -11 27 -5M3730 1859l15 2 13 9 8 14 5 20 -1 20 -8 19 -11 13 -13 5 -16 -3 -11 -9 -8 -15 -4 -20 2 -20 6 -18 11 -11 12 -6M3408 1462l20 -2 20 1 14 3 16 6 17 14 27 39 13 8 20 8 6 5 -1 4 -25 15 -6 6 -7 13 -3 17 0 20 4 47 -6 36 -6 110 5 84 0 30 -3 18 -6 15 -17 15 -22 9 -28 5 -35 -2 -13 -3 -12 -6 -10 -8 -7 -10 -5 -10 -2 -15 0 -425 5 -17 11 -15 16 -10 20 -5M3727 1884l8 -2 7 2 8 7 4 10 1 13 -3 10 -6 10 -8 4 -8 -1 -6 -3 -5 -8 -3 -10 -1 -10 2 -10 5 -7 5 -5M3415 1464l23 -1 17 2 15 5 12 7 11 9 9 13 19 38 3 9 -9 48 0 58 -6 49 -4 115 5 96 -2 30 -7 17 -15 13 -21 8 -27 5 -33 -2 -13 -4 -12 -6 -10 -9 -5 -8 -4 -12 -2 -12 1 -423 5 -17 13 -15 17 -9 20 -4M3405 1469l20 -2 23 1 17 3 15 8 11 10 10 15 10 22 5 20 -6 58 -1 50 -5 35 -1 53 -2 74 5 93 -2 30 -6 17 -13 12 -19 8 -24 5 -32 -1 -14 -4 -11 -4 -10 -8 -6 -8 -4 -10 -2 -12 0 -422 4 -16 8 -12 13 -9 17 -6" fill="none" stroke="#1c1c1c" stroke-width="5.0"/>
<path transform="scale(.1)" d="M3409 1474l21 -2 20 1 15 4 14 7 11 11 9 14 7 20 3 17 -5 100 -6 43 -2 45 -1 82 4 93 0 25 -5 18 -12 11 -18 9 -24 3 -30 -1 -22 -8 -9 -7 -6 -7 -4 -20 0 -418 3 -15 8 -12 12 -8 17 -5M3413 1482l22 -2 17 1 15 3 10 6 11 9 7 13 7 17 3 17 -1 36 -4 50 -10 60 -1 34 -3 90 7 116 -3 14 -8 11 -14 7 -20 3 -33 -1 -19 -4 -8 -6 -6 -6 -4 -8 -1 -10 0 -416 2 -12 6 -10 11 -8 17 -4M3457 1494l15 2 13 8 10 17 5 21 0 44 -6 48 -6 25 -6 9 -4 3 -9 -7 -28 -48 -8 -22 -7 -35 0 -23 6 -20 11 -14 14 -8M3476 1922l2 -2 2 3 1 11 -3 8 -6 2 -1 -2 0 -8 5 -12M3471 1509l9 2 8 7 5 14 3 17 -2 50 -6 27 -3 5 -5 3 -8 -5 -15 -23 -6 -17 -5 -33 1 -14 4 -16 9 -11 11 -6M3470 1526l8 -2 4 2 6 8 3 12 -1 46 -4 12 -6 5 -7 -3 -5 -7 -7 -30 0 -25 3 -10 6 -8" fill="none" stroke="#5a5a5a" stroke-width="4"/><path d="M341.5 152V195" stroke="#8a8a8a" stroke-width="0.7" stroke-dasharray="1.2 2.2"/>
<path transform="scale(.1)" d="M4372 1464l18 -2 19 2 17 6 14 9 8 8 7 12 16 37 2 10 -8 38 -3 70 -7 72 -3 153 -3 53 -6 14 -12 13 -18 8 -20 4 -25 -3 -20 -10 -12 -15 -5 -21 0 -413 3 -15 7 -12 12 -11 17 -7z" fill="#202020"/>
<path transform="scale(.1)" d="M4617 1886l6 2 2 4 0 4 -4 5 -5 -1 -4 -4 -1 -5 5 -4z" fill="#202020"/>
<path transform="scale(.1)" d="M4374 1442l26 -1 28 6 18 9 27 22 13 6 212 33 15 5 8 7 5 10 0 13 -6 10 -10 8 -42 8 -130 21 -11 5 -6 5 -4 7 0 10 4 23 16 65 5 110 3 15 3 5 8 5 12 -1 8 -5 15 -19 9 -8 16 -8 14 -3 28 -1 55 3 17 4 16 7 14 13 14 21 10 24 4 20 -3 21 -8 19 -14 20 -12 12 -18 9 -23 5 -47 0 -30 -3 -15 -5 -12 -7 -25 -28 -12 -10 -13 -5 -16 -1 -62 0 -4 6 -9 25 -12 15 -20 14 -23 8 -24 2 -28 -5 -20 -10 -17 -16 -9 -18 -3 -25 0 -417 7 -23 13 -17 21 -14 24 -6M4368 1449l15 -2 17 0 16 3 14 5 20 13 23 24 10 6 167 26 38 9 17 9 1 4 -3 4 -23 9 -37 8 -100 16 -23 5 -7 4 -8 7 -5 12 0 11 4 24 18 70 4 116 3 14 5 8 14 10 8 2 12 -1 15 -9 27 -28 10 -5 16 -4 22 0 45 2 17 3 13 4 14 11 11 15 11 22 3 18 -1 15 -6 17 -11 18 -11 11 -15 9 -20 4 -35 0 -32 -3 -13 -3 -10 -5 -32 -31 -23 -14 -15 -2 -50 3 -22 -7 -6 6 -7 30 -7 14 -13 14 -20 11 -27 5 -30 -3 -23 -9 -16 -15 -9 -18 -3 -22 0 -413 5 -20 11 -17 15 -12 22 -8M4378 1452l30 0 25 9 17 13 23 28 10 7 118 19 32 8 10 6 1 4 -2 3 -9 5 -33 8 -87 16 -15 8 -6 8 -4 22 1 18 20 85 0 105 2 18 9 14 13 13 15 10 8 2 10 -2 17 -10 30 -28 17 -8 20 -2 40 1 20 2 16 5 11 7 10 13 9 17 4 18 0 12 -5 15 -9 15 -10 11 -16 8 -17 3 -27 0 -33 -4 -13 -4 -10 -6 -32 -27 -25 -17 -15 -3 -32 6 -18 1 -12 -5 -13 -14 -5 7 -2 8 -5 32 -4 14 -11 16 -16 11 -12 5 -15 3 -30 0 -25 -9 -10 -7 -8 -9 -8 -17 -3 -23 1 -412 5 -20 12 -15 19 -12 22 -5M4476 1807l-3 6 -3 23 0 16 3 10 5 -3 4 -7 3 -18 -4 -22 -3 -5 -2 0M4370 1456l28 -2 28 7 12 7 11 8 8 10 13 22 10 9 80 17 16 5 4 5 -2 6 -10 4 -58 14 -14 5 -9 6 -6 7 -2 10 -1 33 4 60 -2 10 -7 15 -4 12 -6 96 0 57 -6 55 -7 18 -14 14 -18 8 -22 5 -16 -1 -14 -2 -23 -11 -9 -9 -6 -9 -3 -11 -2 -14 0 -418 4 -15 10 -15 13 -11 20 -7M4654 1844l39 1 17 3 15 6 10 10 10 20 3 20 -7 20 -13 15 -12 6 -18 3 -22 -1 -29 -5 -16 -6 -18 -9 -30 -25 -5 -8 0 -7 18 -17 30 -21 12 -4 16 -1M4495 1862l11 -1 7 6 10 12 0 8 -7 5 -8 2 -10 0 -6 -2 -5 -8 -1 -7 4 -11 5 -4M4373 1459l15 -2 15 1 15 4 15 6 18 16 17 30 8 9 12 8 27 8 6 5 0 2 -6 6 -27 11 -8 5 -7 16 -3 85 -8 57 -4 153 -5 57 -7 16 -14 12 -19 8 -20 4 -27 -4 -13 -5 -10 -6 -13 -17 -3 -10 -1 -15 0 -413 4 -17 11 -14 15 -10 17 -6M4617 1866l16 -2 28 6 32 -4 17 3 11 7 9 13 3 13 -3 14 -4 8 -8 8 -10 4 -12 2 -20 -4 -26 -11 -24 -2 -10 -3 -17 -11 -6 -8 -2 -7 5 -10 21 -16M4377 1462l16 -2 17 3 18 6 13 8 13 17 23 45 2 7 -9 26 -3 14 -3 76 -7 64 -3 153 -3 53 -6 14 -12 14 -17 8 -23 4 -27 -3 -20 -10 -8 -8 -5 -9 -4 -23 0 -413 5 -17 9 -12 15 -10 19 -5M4615 1879l11 0 4 3 5 7 0 7 -1 6 -8 6 -6 1 -7 -2 -5 -4 -4 -7 -1 -4 3 -6 9 -7M4692 1896l11 1 7 7 -1 10 -6 6 -10 0 -9 -6 -1 -5 1 -5 8 -8" fill="none" stroke="#1c1c1c" stroke-width="5.0"/>
<path transform="scale(.1)" d="M4373 1469l17 -2 18 2 16 5 14 9 8 9 7 12 9 25 3 15 -5 40 0 35 -11 110 -5 200 -5 15 -11 11 -15 7 -20 4 -25 -3 -17 -9 -8 -8 -4 -7 -3 -20 0 -410 2 -13 8 -12 12 -10 15 -5M4388 1474l15 1 15 3 12 6 10 8 7 10 6 12 6 20 1 12 -5 40 0 36 -13 110 -5 195 -4 12 -9 10 -16 7 -18 2 -22 -3 -15 -9 -5 -6 -3 -8 -2 -23 0 -400 4 -15 9 -9 15 -8 17 -3M4409 1489l17 1 7 4 7 7 11 19 4 22 0 14 -5 33 0 30 -5 33 -9 36 -6 8 -2 1 -5 -5 -4 -8 -18 -48 -8 -32 -14 -35 -3 -17 1 -20 7 -20 10 -16 7 -4 8 -3M4421 1506l9 -1 11 7 7 14 3 16 -1 16 -6 34 -2 27 -4 12 -5 3 -5 -3 -4 -7 -6 -28 -13 -30 -4 -14 1 -13 3 -13 7 -12 9 -8M4426 1522l7 -2 5 2 5 8 3 12 0 12 -3 12 -5 10 -5 3 -5 -2 -5 -7 -7 -18 1 -18 4 -8 5 -4" fill="none" stroke="#5a5a5a" stroke-width="4"/><path d="M438.5 152V194" stroke="#8a8a8a" stroke-width="0.7" stroke-dasharray="1.2 2.2"/>
<path transform="scale(.1)" d="M3349 2486l23 -2 23 1 20 5 17 8 14 13 11 17 9 20 4 20 -4 203 -5 30 -9 23 -16 17 -21 11 -25 6 -20 0 -22 -2 -16 -5 -15 -7 -12 -11 -10 -14 -6 -15 -3 -18 -2 -205 3 -35 8 -22 13 -18 17 -12 23 -8z" fill="#202020"/>
<path transform="scale(.1)" d="M3358 2461l30 0 32 6 28 13 34 26 28 3 18 6 12 8 9 11 8 12 13 27 10 11 5 0 11 -10 8 -6 18 -5 23 1 16 7 5 5 1 8 -7 10 -15 6 -33 6 -2 2 31 30 19 38 9 10 14 8 39 13 23 10 20 12 15 15 12 20 3 20 -4 20 -10 17 -21 17 -25 9 -25 5 -72 6 -58 16 -25 4 -23 0 -22 -3 -15 -5 -27 -13 -8 2 -30 13 -18 6 -27 4 -23 -1 -34 -6 -18 -8 -15 -11 -14 -15 -10 -17 -5 -16 -4 -22 -1 -205 2 -35 3 -15 7 -18 8 -12 11 -13 16 -11 14 -8 16 -5 20 -3M3500 2713l-5 7 -2 8 -2 28 4 21 3 3 4 1 13 -4 13 -9 6 -7 2 -10 -3 -10 -8 -10 -17 -15 -8 -3M3348 2468l20 -2 20 1 20 3 17 5 15 8 12 9 36 38 7 4 18 4 12 8 13 18 11 34 7 13 9 8 35 18 14 14 7 15 6 28 5 9 16 6 47 10 25 8 22 10 18 15 10 14 4 15 -2 15 -8 15 -16 13 -23 8 -23 3 -74 3 -18 4 -38 14 -24 4 -23 -1 -20 -8 -11 -10 -9 -17 -30 26 -17 12 -20 8 -28 5 -25 1 -25 -4 -20 -7 -20 -12 -11 -12 -10 -15 -7 -18 -4 -20 -1 -200 1 -37 9 -30 6 -13 10 -12 9 -9 16 -9 14 -6 16 -4M3627 2571l11 0 8 3 5 4 1 6 -5 4 -9 4 -10 0 -10 -2 -6 -6 1 -6 6 -4 8 -3M3495 2661l-6 23 -4 40 0 74 3 21 22 -15 36 -16 12 -7 12 -16 6 -24 0 -7 -5 -8 -42 -30 -9 -10 -18 -26 -4 -1 -3 2M3358 2471l24 -1 23 3 20 6 17 10 22 22 28 44 20 16 6 15 -3 14 -5 5 -10 5 -5 5 -7 21 -7 62 -2 93 -3 17 -4 13 -15 20 -19 16 -26 10 -27 5 -23 -1 -24 -4 -20 -8 -16 -10 -12 -13 -9 -15 -7 -20 -2 -20 -1 -207 4 -38 11 -25 9 -11 10 -9 25 -14 28 -6M3553 2651l15 0 15 7 4 6 2 7 -1 7 -3 5 -7 4 -10 0 -10 -3 -7 -6 -5 -7 -2 -10 4 -7 5 -3M3633 2731l22 -2 27 2 26 5 22 10 15 10 11 15 3 15 -4 12 -5 8 -10 8 -22 7 -30 2 -80 -3 -13 2 -23 14 -17 6 -17 0 -14 -6 -3 -5 0 -5 3 -5 6 -5 13 -5 27 -6 10 -6 6 -8 11 -30 8 -13 13 -11 15 -6M3366 2473l22 1 22 4 20 7 16 11 15 17 13 23 10 22 4 23 -9 85 -3 118 -6 30 -13 22 -19 17 -26 11 -32 5 -25 -2 -20 -4 -17 -7 -16 -11 -12 -14 -9 -17 -5 -18 -2 -22 0 -203 2 -20 3 -17 13 -26 18 -17 25 -12 31 -6M3652 2744l18 -2 18 2 18 4 16 7 12 9 8 10 2 10 -2 10 -6 7 -7 5 -24 6 -45 -2 -18 -4 -14 -5 -7 -5 -5 -8 -1 -10 2 -10 5 -9 8 -7 10 -5 12 -3M3371 2476l21 1 23 5 17 8 13 9 14 17 13 22 7 20 2 23 -6 95 -2 102 -2 18 -4 15 -12 23 -20 17 -25 11 -32 4 -23 -1 -20 -5 -17 -7 -16 -11 -10 -14 -9 -17 -5 -20 -1 -23 0 -197 1 -20 4 -17 13 -25 17 -17 26 -11 33 -5M3659 2758l23 -1 27 7 9 5 6 7 2 8 -1 4 -8 8 -17 4 -22 -2 -23 -5 -10 -7 -5 -10 5 -10 14 -8M3370 2478l22 2 23 4 17 9 13 10 13 15 10 20 7 23 2 20 -5 90 -1 107 -3 18 -4 15 -13 23 -19 16 -24 10 -30 4 -23 -2 -20 -4 -17 -8 -13 -10 -10 -12 -9 -17 -5 -17 -2 -26 0 -194 2 -20 3 -18 13 -25 18 -17 25 -11 30 -5M3366 2481l22 0 22 4 18 7 12 9 13 15 11 20 7 20 3 22 -4 96 -2 102 -5 30 -11 22 -18 18 -24 11 -30 4 -22 -1 -20 -4 -16 -6 -14 -10 -12 -14 -8 -15 -4 -17 -2 -20 0 -200 4 -36 10 -22 16 -18 23 -11 31 -6M3363 2484l22 -1 23 4 17 7 13 8 12 14 12 20 7 20 2 20 -5 198 -5 30 -10 22 -18 18 -23 10 -28 5 -22 -1 -20 -3 -15 -7 -15 -9 -11 -13 -8 -15 -5 -15 -2 -20 0 -200 4 -35 9 -23 16 -17 22 -12 28 -5" fill="none" stroke="#1c1c1c" stroke-width="5.0"/>
<path transform="scale(.1)" d="M3352 2488l23 -1 20 1 20 5 15 8 12 11 12 16 8 20 5 20 -5 203 -3 27 -10 23 -15 17 -19 11 -27 6 -20 0 -20 -2 -15 -5 -15 -8 -13 -12 -8 -12 -6 -15 -3 -17 0 -203 2 -35 8 -21 12 -17 18 -12 24 -8M3358 2491l22 -1 20 2 18 6 13 8 11 11 11 17 7 18 3 19 -4 200 -4 27 -10 23 -13 15 -20 10 -27 6 -20 0 -20 -3 -15 -5 -12 -8 -11 -10 -7 -12 -6 -16 -3 -17 0 -203 3 -32 8 -22 13 -16 20 -12 23 -5M3350 2496l22 -2 20 1 18 4 15 7 13 11 10 14 7 17 5 20 -4 200 -4 26 -8 22 -14 17 -20 10 -22 5 -18 0 -20 -2 -15 -5 -13 -6 -10 -9 -8 -12 -6 -16 -3 -14 0 -203 2 -33 5 -17 13 -17 15 -11 20 -7M3369 2498l19 1 17 3 15 6 10 8 11 12 9 18 5 18 1 14 -4 106 -1 87 -4 25 -9 22 -14 13 -19 9 -25 4 -20 -1 -18 -4 -13 -5 -10 -8 -8 -10 -6 -12 -4 -16 -2 -17 0 -195 3 -31 9 -19 14 -15 17 -8 27 -5M3352 2508l18 -2 18 1 20 4 10 5 12 9 10 14 7 17 3 12 1 26 -6 92 -2 88 -3 20 -7 17 -11 12 -14 8 -20 4 -18 1 -18 -2 -10 -3 -12 -6 -8 -7 -7 -10 -5 -13 -2 -14 -1 -197 2 -30 4 -16 9 -14 15 -10 15 -6" fill="none" stroke="#5a5a5a" stroke-width="4"/><path d="M337.5 254V282" stroke="#8a8a8a" stroke-width="0.7" stroke-dasharray="1.2 2.2"/>
<path transform="scale(.1)" d="M4336 2488l24 -2 23 3 20 5 17 10 13 12 11 18 7 20 4 20 1 32 -1 105 1 53 -3 22 -12 22 -18 19 -23 12 -27 6 -20 0 -20 -2 -15 -4 -15 -8 -14 -13 -11 -14 -6 -16 -3 -17 -1 -187 3 -36 9 -22 14 -18 19 -13 23 -6z" fill="#202020"/>
<path transform="scale(.1)" d="M4342 2466l21 -1 20 2 17 3 18 7 25 18 25 32 10 8 10 2 65 2 30 5 65 23 15 8 15 11 19 25 17 35 7 25 8 50 10 37 2 16 -2 14 -5 13 -9 13 -15 12 -17 11 -15 6 -18 4 -30 3 -120 2 -24 -2 -28 -9 -7 -1 -45 20 -18 4 -20 3 -22 -1 -28 -4 -20 -9 -17 -13 -14 -14 -10 -18 -6 -14 -4 -20 -1 -188 3 -38 5 -17 5 -13 10 -15 11 -11 13 -10 15 -8 15 -5 19 -3M4332 2474l24 -3 22 1 22 5 18 7 12 8 13 12 27 42 10 8 56 0 34 4 68 21 15 8 13 9 14 18 12 24 6 26 8 50 15 47 1 13 -1 10 -5 12 -7 10 -13 12 -16 9 -17 5 -20 3 -132 4 -23 -3 -25 -9 -7 0 -48 26 -18 5 -19 3 -25 -1 -23 -3 -20 -8 -17 -12 -13 -13 -10 -16 -6 -14 -3 -18 -2 -165 2 -55 3 -15 5 -15 7 -12 11 -13 13 -12 13 -7 26 -8M4342 2476l24 -1 22 3 18 5 17 9 13 10 10 12 10 17 15 30 5 7 5 3 42 -5 33 3 77 22 15 7 10 7 13 19 5 12 2 12 -3 20 -12 30 0 10 5 8 28 28 7 12 3 10 0 18 -4 10 -6 8 -13 10 -15 7 -18 5 -20 2 -120 3 -20 -3 -22 -10 -8 -1 -7 4 -27 20 -16 8 -20 7 -22 3 -22 -1 -26 -4 -17 -8 -17 -13 -12 -13 -7 -12 -6 -15 -4 -20 -1 -185 3 -35 3 -15 7 -15 19 -23 12 -9 13 -6 29 -7M4349 2478l24 1 23 4 20 8 17 13 10 12 12 20 18 55 5 10 2 0 13 -11 11 -6 14 -4 18 -1 22 5 32 13 40 7 18 10 7 7 4 10 0 10 -3 10 -6 6 -10 6 -12 5 -15 2 -15 -2 -16 -12 -9 -4 -37 0 -20 -5 -17 -9 -19 -18 -2 0 -5 11 -4 27 -1 58 1 22 4 13 5 3 54 -20 3 -3 1 -5 -10 -15 -2 -10 2 -7 5 -7 9 -7 13 -5 17 -1 18 1 8 6 4 15 -1 10 -10 18 0 4 11 6 58 12 20 10 10 10 3 10 -3 12 -7 10 -15 11 -26 6 -69 2 -45 4 -30 -3 -11 -4 -15 -10 -4 -1 -8 4 -26 24 -16 10 -20 8 -26 4 -24 0 -23 -4 -17 -7 -19 -14 -11 -12 -8 -15 -5 -15 -3 -18 -1 -184 3 -33 4 -15 6 -12 8 -13 13 -13 13 -8 12 -6 31 -6M4351 2481l27 1 22 5 18 8 16 13 13 18 9 22 6 23 4 33 -3 114 4 56 0 10 -7 12 -12 15 -12 13 -13 10 -27 13 -33 4 -23 -1 -20 -4 -14 -7 -16 -11 -12 -14 -8 -16 -6 -17 -2 -23 0 -180 2 -22 3 -15 5 -13 8 -12 18 -18 23 -12 30 -5M4523 2596l15 0 12 5 8 10 -2 7 -8 6 -12 3 -10 0 -10 -5 -6 -6 -1 -8 4 -7 10 -5M4618 2628l8 -2 4 5 -2 3 -5 1 -5 -4 0 -3M4514 2758l94 -2 25 2 17 4 12 6 7 8 1 8 -3 7 -9 7 -22 8 -66 1 -42 5 -18 -1 -12 -3 -11 -7 -5 -7 -2 -10 3 -8 7 -8 10 -6 14 -4M4350 2484l23 0 23 4 20 9 15 11 13 18 10 22 5 23 2 27 -2 118 2 55 -3 17 -7 13 -9 13 -22 18 -24 12 -33 5 -23 -1 -20 -5 -14 -7 -14 -10 -13 -15 -8 -15 -5 -18 -1 -20 0 -182 1 -20 3 -15 12 -23 19 -19 23 -11 27 -4M4517 2774l19 -1 37 7 30 -5 15 0 12 3 5 6 -3 4 -11 4 -15 0 -33 -3 -35 10 -20 1 -12 -4 -5 -8 0 -4 4 -6 12 -4M4348 2486l22 0 23 4 17 7 17 11 12 16 10 19 6 21 2 24 -1 128 1 50 -4 22 -6 13 -9 13 -20 17 -22 11 -30 4 -20 0 -20 -4 -16 -6 -14 -10 -12 -12 -9 -16 -6 -17 -2 -20 0 -183 4 -34 11 -23 19 -19 19 -11 28 -5" fill="none" stroke="#1c1c1c" stroke-width="5.0"/>
<path transform="scale(.1)" d="M4341 2491l25 -1 22 3 18 6 14 9 13 13 8 15 7 20 3 20 0 188 -3 22 -12 22 -18 18 -22 11 -25 5 -21 0 -20 -3 -14 -5 -13 -7 -13 -12 -9 -14 -6 -15 -3 -18 -1 -184 3 -36 9 -21 16 -19 19 -11 23 -6M4350 2494l20 0 20 3 17 6 14 11 11 12 9 18 5 17 2 23 0 177 -4 25 -11 21 -17 17 -23 10 -27 5 -20 -1 -18 -3 -15 -6 -12 -9 -11 -12 -9 -14 -4 -16 -2 -17 0 -183 3 -32 10 -20 18 -18 20 -10 24 -4M4339 2498l22 -1 19 2 18 4 15 9 13 11 7 13 7 18 4 20 0 187 -3 23 -10 20 -15 15 -20 11 -26 5 -17 0 -20 -3 -13 -4 -13 -7 -11 -10 -8 -13 -6 -12 -3 -18 -1 -182 2 -33 8 -20 13 -17 17 -11 21 -7M4337 2503l21 -2 20 2 15 3 15 8 12 10 9 12 7 16 3 19 1 33 -1 154 -2 23 -8 17 -14 16 -17 10 -25 6 -17 1 -19 -3 -14 -4 -11 -6 -12 -9 -7 -11 -7 -14 -2 -16 -1 -182 2 -32 6 -18 12 -15 15 -11 19 -7M4348 2508l20 0 17 3 14 5 11 8 11 11 7 14 5 17 1 15 -1 180 -3 19 -7 16 -15 15 -20 9 -22 4 -32 -3 -21 -10 -10 -10 -7 -12 -5 -13 -1 -15 -1 -177 3 -30 8 -20 13 -13 13 -7 22 -6" fill="none" stroke="#5a5a5a" stroke-width="4"/><path d="M436 254V281" stroke="#8a8a8a" stroke-width="0.7" stroke-dasharray="1.2 2.2"/>
<path transform="scale(.1)" d="M3683 3316l25 -1 24 3 26 8 20 11 16 15 8 14 2 18 -6 15 -10 11 -16 8 -20 7 -20 2 -22 -1 -20 -4 -20 -7 -19 -11 -14 -12 -8 -13 -3 -15 2 -12 7 -13 12 -10 15 -7 20 -5z" fill="#2a2a2a"/>
<path transform="scale(.1)" d="M3672 3284l40 -1 40 7 38 13 30 19 22 22 8 12 4 13 2 15 -2 12 -4 13 -7 10 -18 16 -25 13 -30 8 -35 3 -33 -2 -37 -9 -30 -12 -25 -16 -19 -18 -13 -23 -4 -23 5 -20 13 -19 20 -15 28 -12 32 -6M3689 3296l33 2 33 7 30 12 25 17 16 20 8 20 -1 20 -5 10 -7 10 -16 14 -23 10 -27 6 -30 2 -30 -4 -27 -7 -26 -12 -22 -15 -16 -19 -7 -17 -1 -18 6 -18 16 -16 20 -12 24 -8 27 -4M3676 3306l29 -1 30 3 30 9 25 14 19 18 10 17 2 10 0 10 -7 18 -14 14 -18 10 -22 6 -25 3 -27 -1 -26 -5 -22 -9 -20 -11 -16 -15 -10 -14 -5 -18 2 -15 9 -15 14 -12 18 -10 24 -6M3690 3312l28 0 27 5 23 9 20 13 14 15 8 18 0 17 -8 15 -12 11 -18 9 -22 5 -23 2 -25 -2 -22 -6 -20 -8 -18 -11 -12 -13 -8 -15 -3 -14 4 -16 9 -12 16 -11 20 -8 22 -3" fill="none" stroke="#1c1c1c" stroke-width="5.0"/>
<path transform="scale(.1)" d="M3691 3324l21 0 23 3 20 7 16 10 13 12 6 13 1 15 -6 12 -12 10 -13 7 -18 4 -17 2 -20 -2 -17 -4 -18 -8 -12 -8 -11 -11 -7 -12 -1 -12 3 -10 7 -10 11 -9 15 -6 16 -3M3692 3332l18 -1 18 2 17 5 15 8 12 10 6 13 1 13 -4 10 -8 7 -12 7 -13 4 -14 1 -18 -1 -15 -3 -15 -5 -12 -8 -9 -8 -6 -10 -3 -10 2 -10 7 -10 9 -6 12 -6 12 -2M3692 3339l16 -1 14 1 16 4 12 6 10 7 7 10 1 10 -3 10 -6 8 -9 5 -22 5 -26 -2 -22 -9 -15 -14 -3 -10 0 -7 4 -8 6 -7 20 -8M3694 3346l13 -1 13 1 12 3 11 5 9 8 4 7 1 7 -3 8 -12 9 -17 4 -20 -2 -17 -7 -12 -12 -3 -12 7 -10 14 -8M3702 3354l16 0 15 5 10 10 -1 10 -7 6 -13 4 -12 -1 -12 -4 -9 -8 -3 -10 5 -7 11 -5" fill="none" stroke="#5a5a5a" stroke-width="4"/><path d="M366 335.5 L376 337" stroke="#888" stroke-width="0.7" stroke-dasharray="1.5 1"/><circle cx="372.3" cy="336.4" r="0.9" fill="#ddd"/>
<path transform="scale(.1)" d="M4432 3342l51 2 23 4 19 6 15 8 9 7 5 10 -1 10 -6 7 -9 7 -25 11 -35 7 -40 2 -45 -4 -43 -8 -30 -12 -7 -5 -5 -8 -1 -7 5 -7 10 -8 16 -7 45 -11 47 -4z" fill="#202020"/>
<path transform="scale(.1)" d="M4393 3319l47 -1 43 1 40 6 33 8 30 13 18 13 10 15 1 15 -7 13 -11 10 -19 10 -22 9 -26 7 -30 5 -64 3 -76 -4 -34 -5 -36 -7 -29 -9 -20 -9 -14 -10 -9 -13 -1 -10 6 -13 15 -12 20 -10 28 -9 32 -7 75 -9M4401 3329l39 -1 38 1 30 4 30 7 25 11 16 11 9 12 2 8 -2 7 -6 10 -9 8 -15 9 -17 7 -45 10 -56 3 -62 -3 -60 -10 -25 -8 -17 -8 -13 -8 -8 -10 -1 -10 5 -10 11 -9 17 -8 23 -9 26 -5 65 -9M4425 3334l61 2 24 4 26 8 19 8 12 10 6 10 -1 13 -6 10 -10 7 -30 14 -40 8 -48 2 -60 -4 -50 -10 -20 -6 -15 -8 -10 -8 -5 -8 0 -10 6 -7 12 -9 17 -7 50 -13 62 -6M4420 3339l56 1 25 4 22 5 17 8 14 9 7 10 0 10 -4 8 -7 8 -27 13 -37 8 -43 3 -53 -4 -47 -9 -31 -11 -11 -8 -5 -8 0 -7 4 -7 9 -8 16 -8 43 -11 52 -6" fill="none" stroke="#1c1c1c" stroke-width="5.0"/>
<path transform="scale(.1)" d="M4412 3349l48 -1 43 7 17 6 12 8 6 7 0 10 -5 8 -6 5 -21 10 -30 6 -33 2 -37 -3 -36 -6 -24 -10 -10 -6 -4 -6 -1 -7 3 -5 15 -10 27 -9 36 -6M4418 3354l42 -1 35 6 14 5 9 6 6 6 1 8 -7 10 -18 9 -24 6 -28 2 -32 -1 -30 -6 -22 -8 -12 -10 -1 -4 2 -6 13 -10 23 -7 29 -5M4422 3359l34 -1 30 5 20 9 4 4 2 8 -5 8 -14 7 -20 5 -25 2 -25 -1 -23 -4 -20 -7 -9 -8 -1 -7 10 -9 18 -7 24 -4M4427 3364l26 -1 25 4 15 7 5 5 0 5 -7 8 -11 4 -17 4 -17 1 -20 -1 -18 -4 -12 -4 -8 -8 2 -8 8 -4 29 -8M4444 3369l17 1 12 3 8 6 1 5 -5 5 -7 3 -24 3 -26 -3 -12 -8 0 -5 8 -5 12 -3 16 -2" fill="none" stroke="#5a5a5a" stroke-width="4"/><path d="M427 338.2 L453 338.2" stroke="#bbb" stroke-width="0.8" stroke-dasharray="3 0.6"/>
<path d="M326.7 115.2 L326.7 47.5 L352 47.5 L347.7 115.2" fill="none" stroke="#222" stroke-width="0.8"/>
<path d="M423.8 115.2 L423.8 47.5 L449.2 47.5 L444.9 115.2" fill="none" stroke="#222" stroke-width="0.8"/>
<rect x="348.5" y="143" width="37" height="21.7" fill="none" stroke="#222" stroke-width="0.8"/>
<rect x="445.7" y="143" width="37" height="21.5" fill="none" stroke="#222" stroke-width="0.8"/>
<rect x="351" y="273.6" width="38.7" height="20.8" fill="none" stroke="#222" stroke-width="0.8"/>
<rect x="448" y="273.6" width="38.6" height="20.8" fill="none" stroke="#222" stroke-width="0.8"/>
<rect x="357.3" y="326.9" width="37.4" height="25.8" fill="none" stroke="#222" stroke-width="0.8"/>
<rect x="454.7" y="326.9" width="37" height="25.8" fill="none" stroke="#222" stroke-width="0.8"/>
<text x="371.3" y="292.6" font-size="9" textLength="14.3" lengthAdjust="spacingAndGlyphs" fill="#111">HSC</text>
<text x="467.2" y="292.6" font-size="9" textLength="14.3" lengthAdjust="spacingAndGlyphs" fill="#111">HSC</text>
<text x="377.7" y="351.6" font-size="9" textLength="14.8" lengthAdjust="spacingAndGlyphs" fill="#111">99.1</text>
<text x="478.2" y="351.6" font-size="9" textLength="10.2" lengthAdjust="spacingAndGlyphs" fill="#111">7.3</text>
<line x1="430.4" y1="104.4" x2="430.4" y2="127.30000000000001" stroke="#a2293f" stroke-width="1.4" stroke-dasharray="2.6 1.2"/>
<path d="M426.5 124.50000000000001 L430.4 126.70000000000002 L434.29999999999995 124.50000000000001 L430.4 134.3 Z" fill="#a2293f"/>
<line x1="481.3" y1="164.8" x2="481.3" y2="219.8" stroke="#a2293f" stroke-width="1.4" stroke-dasharray="2.6 1.2"/>
<path d="M477.40000000000003 217.0 L481.3 219.20000000000002 L485.2 217.0 L481.3 226.8 Z" fill="#a2293f"/>
<line x1="471.6" y1="294.5" x2="471.6" y2="312.5" stroke="#a2293f" stroke-width="1.4" stroke-dasharray="2.6 1.2"/>
<path d="M467.70000000000005 309.7 L471.6 311.9 L475.5 309.7 L471.6 319.5 Z" fill="#a2293f"/>
<text x="7.8" y="218.6" font-size="12.5" fill="#1a1a1a">C</text>
<text x="68.2" y="233.3" font-size="10.5" fill="#111" textLength="86" lengthAdjust="spacingAndGlyphs">LSK CD48<tspan font-size="6.5" dy="-4">-</tspan><tspan dy="4"> CD150</tspan><tspan font-size="6.5" dy="-4">+</tspan></text>
<line x1="65.5" y1="348.4" x2="65.5" y2="350.6" stroke="#666" stroke-width="0.5"/>
<line x1="67" y1="348.4" x2="67" y2="350.6" stroke="#666" stroke-width="0.5"/>
<line x1="68.5" y1="348.4" x2="68.5" y2="350.6" stroke="#666" stroke-width="0.5"/>
<line x1="72" y1="348.4" x2="72" y2="350.6" stroke="#666" stroke-width="0.5"/>
<line x1="78" y1="348.4" x2="78" y2="350.6" stroke="#666" stroke-width="0.5"/>
<line x1="84" y1="348.4" x2="84" y2="350.6" stroke="#666" stroke-width="0.5"/>
<line x1="88" y1="348.4" x2="88" y2="350.6" stroke="#666" stroke-width="0.5"/>
<line x1="90" y1="348.4" x2="90" y2="350.6" stroke="#666" stroke-width="0.5"/>
<line x1="92" y1="348.4" x2="92" y2="350.6" stroke="#666" stroke-width="0.5"/>
<line x1="96" y1="348.4" x2="96" y2="350.6" stroke="#666" stroke-width="0.5"/>
<line x1="103" y1="348.4" x2="103" y2="350.6" stroke="#666" stroke-width="0.5"/>
<line x1="110" y1="348.4" x2="110" y2="350.6" stroke="#666" stroke-width="0.5"/>
<line x1="114" y1="348.4" x2="114" y2="350.6" stroke="#666" stroke-width="0.5"/>
<line x1="116" y1="348.4" x2="116" y2="350.6" stroke="#666" stroke-width="0.5"/>
<line x1="118" y1="348.4" x2="118" y2="350.6" stroke="#666" stroke-width="0.5"/>
<line x1="122" y1="348.4" x2="122" y2="350.6" stroke="#666" stroke-width="0.5"/>
<line x1="130" y1="348.4" x2="130" y2="350.6" stroke="#666" stroke-width="0.5"/>
<line x1="135" y1="348.4" x2="135" y2="350.6" stroke="#666" stroke-width="0.5"/>
<line x1="140" y1="348.4" x2="140" y2="350.6" stroke="#666" stroke-width="0.5"/>
<line x1="143" y1="348.4" x2="143" y2="350.6" stroke="#666" stroke-width="0.5"/>
<line x1="145" y1="348.4" x2="145" y2="350.6" stroke="#666" stroke-width="0.5"/>
<line x1="147" y1="348.4" x2="147" y2="350.6" stroke="#666" stroke-width="0.5"/>
<line x1="152" y1="348.4" x2="152" y2="350.6" stroke="#666" stroke-width="0.5"/>
<line x1="156" y1="348.4" x2="156" y2="350.6" stroke="#666" stroke-width="0.5"/>
<rect x="64.3" y="348.4" width="3.2" height="2.6" fill="#222"/>
<line x1="63.5" y1="335.8" x2="158.7" y2="335.8" stroke="#666" stroke-width="0.9"/>
<line x1="63.5" y1="346.0" x2="158.7" y2="346.0" stroke="#3b5b88" stroke-width="1.0"/>
<path d="M63.90 278.70 C64.12 281.17 64.63 284.70 65.20 293.50 C65.77 302.30 66.70 323.75 67.30 331.50 C67.90 339.25 68.32 339.28 68.80 340.00 C69.28 340.72 69.50 339.32 70.20 335.80 C70.90 332.28 72.18 322.97 73.00 318.90 C73.82 314.83 74.05 313.00 75.10 311.40 C76.15 309.80 78.07 310.53 79.30 309.30 C80.53 308.07 81.43 306.28 82.50 304.00 C83.57 301.72 84.65 300.18 85.70 295.60 C86.75 291.02 87.92 282.32 88.80 276.50 C89.68 270.68 90.40 263.87 91.00 260.70 C91.60 257.53 91.88 257.50 92.40 257.50 C92.92 257.50 93.28 259.28 94.10 260.70 C94.92 262.12 96.42 263.00 97.30 266.00 C98.18 269.00 98.70 270.60 99.40 278.70 C100.10 286.80 100.62 305.08 101.50 314.60 C102.38 324.12 103.47 330.68 104.70 335.80 C105.93 340.92 107.68 343.60 108.90 345.30 C110.12 347.00 111.48 345.88 112.00 346.00" fill="none" stroke="#3b5b88" stroke-width="1.2"/>
<path d="M129.5 346 C131 343.5 133.5 343.5 135.2 346" fill="none" stroke="#3b5b88" stroke-width="1.2"/>
<path d="M103.70 333.50 C103.97 332.62 105.50 327.17 106.00 326.00 C106.50 324.83 107.53 323.97 108.00 323.50 C108.47 323.03 109.59 322.70 110.00 322.00 C110.41 321.30 111.20 319.48 111.50 317.50 C111.80 315.52 112.38 308.44 112.60 305.00 C112.82 301.56 113.25 291.15 113.40 288.00 C113.55 284.85 113.76 279.87 113.90 278.00 C114.04 276.13 114.35 273.11 114.60 272.00 C114.84 270.89 115.70 270.25 116.00 268.50 C116.30 266.75 116.89 259.62 117.20 257.00 C117.52 254.38 118.42 246.82 118.70 246.00 C118.98 245.18 119.40 248.83 119.60 250.00 C119.80 251.17 120.18 255.28 120.40 256.00 C120.62 256.72 121.23 256.08 121.50 256.20 C121.77 256.32 122.43 255.62 122.70 257.00 C122.97 258.38 123.50 264.85 123.80 268.00 C124.10 271.15 124.95 280.38 125.30 284.00 C125.65 287.62 126.51 296.43 126.80 299.00 C127.09 301.57 127.51 304.97 127.80 306.00 C128.09 307.03 128.97 306.52 129.30 307.80 C129.63 309.08 130.23 314.82 130.60 317.00 C130.97 319.18 132.01 324.93 132.50 326.50 C132.99 328.07 134.22 329.60 134.80 330.50 C135.38 331.40 136.66 333.75 137.50 334.20 C138.34 334.65 141.47 334.38 142.00 334.40" fill="none" stroke="#a2293f" stroke-width="1.2"/>
<line x1="103.7" y1="334.7" x2="158.7" y2="334.7" stroke="#a2293f" stroke-width="1.6"/>
<rect x="63.5" y="238.9" width="95.2" height="109.5" fill="none" stroke="#111" stroke-width="1.1"/>
<text x="58.2" y="344" font-size="10.5" textLength="43" lengthAdjust="spacingAndGlyphs" transform="rotate(-90 58.2 344)" fill="#111">% of Max</text>
<line x1="54.3" y1="299" x2="54.3" y2="255" stroke="#111" stroke-width="0.9"/>
<path d="M54.3 249 L51.2 256 L54.3 254.6 L57.4 256 Z" fill="#111"/>
<text x="65.6" y="363.9" font-size="10.5" textLength="17" lengthAdjust="spacingAndGlyphs" fill="#111">Eng</text>
<line x1="86.7" y1="361.2" x2="147" y2="361.2" stroke="#111" stroke-width="0.9"/>
<path d="M150.2 361.2 L143.2 358.1 L144.6 361.2 L143.2 364.3 Z" fill="#111"/>
<text x="176.0" y="220.0" font-size="12.5" fill="#1a1a1a">D</text>
<line x1="218.75" y1="229.5" x2="218.75" y2="349.3" stroke="#111" stroke-width="1.1"/>
<line x1="218.2" y1="348.75" x2="273.75" y2="348.75" stroke="#111" stroke-width="1.1"/>
<line x1="215" y1="233.0" x2="218.75" y2="233.0" stroke="#111" stroke-width="0.9"/>
<text x="212.2" y="236.2" font-size="8.8" text-anchor="end" fill="#222">100</text>
<line x1="215" y1="262.0" x2="218.75" y2="262.0" stroke="#111" stroke-width="0.9"/>
<text x="212.2" y="265.2" font-size="8.8" text-anchor="end" fill="#222">75</text>
<line x1="215" y1="291.0" x2="218.75" y2="291.0" stroke="#111" stroke-width="0.9"/>
<text x="212.2" y="294.2" font-size="8.8" text-anchor="end" fill="#222">50</text>
<line x1="215" y1="320.0" x2="218.75" y2="320.0" stroke="#111" stroke-width="0.9"/>
<text x="212.2" y="323.2" font-size="8.8" text-anchor="end" fill="#222">25</text>
<line x1="235.75" y1="235.32" x2="235.75" y2="242.28" stroke="#222" stroke-width="0.9" stroke-dasharray="1 0.9"/>
<line x1="235.75" y1="286.36" x2="235.75" y2="304.92" stroke="#222" stroke-width="0.9" stroke-dasharray="1 0.9"/>
<line x1="231.75" y1="235.32" x2="239.75" y2="235.32" stroke="#222" stroke-width="0.9" stroke-dasharray="1 0.9"/>
<line x1="231.75" y1="304.92" x2="239.75" y2="304.92" stroke="#222" stroke-width="0.9" stroke-dasharray="1 0.9"/>
<rect x="227" y="242.28" width="17.5" height="44.08000000000001" fill="#9e3246"/>
<line x1="227" y1="249.24" x2="244.5" y2="249.24" stroke="#111" stroke-width="1.3"/>
<line x1="256.9" y1="320.0" x2="256.9" y2="325.8" stroke="#222" stroke-width="0.9" stroke-dasharray="1 0.9"/>
<line x1="256.9" y1="343.78" x2="256.9" y2="348.072" stroke="#222" stroke-width="0.9" stroke-dasharray="1 0.9"/>
<line x1="252.89999999999998" y1="320.0" x2="260.9" y2="320.0" stroke="#222" stroke-width="0.9" stroke-dasharray="1 0.9"/>
<line x1="252.89999999999998" y1="348.072" x2="260.9" y2="348.072" stroke="#222" stroke-width="0.9" stroke-dasharray="1 0.9"/>
<rect x="248.3" y="325.8" width="17.19999999999999" height="17.97999999999996" fill="#4a648c"/>
<line x1="248.3" y1="339.372" x2="265.5" y2="339.372" stroke="#111" stroke-width="1.3"/>
<line x1="235.8" y1="230.0" x2="256.6" y2="230.0" stroke="#111" stroke-width="0.9"/>
<line x1="235.8" y1="229.6" x2="235.8" y2="232.8" stroke="#111" stroke-width="0.9"/>
<line x1="256.6" y1="229.6" x2="256.6" y2="309.3" stroke="#111" stroke-width="0.9"/>
<text x="246.3" y="229.0" font-size="8" text-anchor="middle" fill="#111">***</text>
<text x="0" y="0" font-size="10.5" fill="#111" transform="translate(191.3 325.3) rotate(-90)" textLength="71.5" lengthAdjust="spacingAndGlyphs">%Eng<tspan font-size="6.5" dy="-4">+</tspan><tspan dy="4"> in HSCs</tspan></text>
<text x="7.7" y="413.8" font-size="12.5" fill="#1a1a1a">E</text>
<line x1="63.75" y1="418.75" x2="63.75" y2="532.9" stroke="#111" stroke-width="1.1"/>
<line x1="63.25" y1="532.4" x2="229.8" y2="532.4" stroke="#111" stroke-width="1.1"/>
<line x1="60.25" y1="421.90000000000003" x2="63.75" y2="421.90000000000003" stroke="#111" stroke-width="0.9"/>
<text x="57.25" y="425.00000000000006" font-size="8.8" text-anchor="end" fill="#222">20</text>
<line x1="60.25" y1="449.6" x2="63.75" y2="449.6" stroke="#111" stroke-width="0.9"/>
<text x="57.25" y="452.70000000000005" font-size="8.8" text-anchor="end" fill="#222">15</text>
<line x1="60.25" y1="477.30000000000007" x2="63.75" y2="477.30000000000007" stroke="#111" stroke-width="0.9"/>
<text x="57.25" y="480.4000000000001" font-size="8.8" text-anchor="end" fill="#222">10</text>
<line x1="60.25" y1="505.00000000000006" x2="63.75" y2="505.00000000000006" stroke="#111" stroke-width="0.9"/>
<text x="57.25" y="508.1000000000001" font-size="8.8" text-anchor="end" fill="#222">5</text>
<line x1="80" y1="532.4" x2="80" y2="535.6999999999999" stroke="#111" stroke-width="0.9"/>
<text x="80" y="547.5" font-size="8.8" text-anchor="middle" fill="#222">14</text>
<line x1="113.3" y1="532.4" x2="113.3" y2="535.6999999999999" stroke="#111" stroke-width="0.9"/>
<text x="113.3" y="547.5" font-size="8.8" text-anchor="middle" fill="#222">28</text>
<line x1="146.6" y1="532.4" x2="146.6" y2="535.6999999999999" stroke="#111" stroke-width="0.9"/>
<text x="146.6" y="547.5" font-size="8.8" text-anchor="middle" fill="#222">42</text>
<line x1="179.7" y1="532.4" x2="179.7" y2="535.6999999999999" stroke="#111" stroke-width="0.9"/>
<text x="179.7" y="547.5" font-size="8.8" text-anchor="middle" fill="#222">56</text>
<line x1="212.9" y1="532.4" x2="212.9" y2="535.6999999999999" stroke="#111" stroke-width="0.9"/>
<text x="212.9" y="547.5" font-size="8.8" text-anchor="middle" fill="#222">70</text>
<text x="80" y="562.8" font-size="10.5" textLength="133.3" lengthAdjust="spacingAndGlyphs" fill="#111">Days after last pIpC injection</text>
<text x="0" y="0" font-size="10.5" fill="#111" transform="translate(40.2 505.2) rotate(-90)" textLength="58.5" lengthAdjust="spacingAndGlyphs">WBC in K/μL</text>
<path d="M80 470.5 L113.3 474.6 L146.6 467.3 L179.7 467.9 L212.9 464.4" fill="none" stroke="#3b5b88" stroke-width="1.6" stroke-dasharray="3.6 2.1"/>
<path d="M80 477 L113.3 483.2 L146.6 475.2 L179.7 488.9 L212.9 472.5" fill="none" stroke="#a2293f" stroke-width="1.7"/>
<line x1="80" y1="473.5" x2="80" y2="480.5" stroke="#a2293f" stroke-width="1.1"/>
<line x1="76.9" y1="473.5" x2="83.1" y2="473.5" stroke="#a2293f" stroke-width="1.1"/>
<line x1="76.9" y1="480.5" x2="83.1" y2="480.5" stroke="#a2293f" stroke-width="1.1"/>
<line x1="113.3" y1="479.5" x2="113.3" y2="487" stroke="#a2293f" stroke-width="1.1"/>
<line x1="110.2" y1="479.5" x2="116.39999999999999" y2="479.5" stroke="#a2293f" stroke-width="1.1"/>
<line x1="110.2" y1="487" x2="116.39999999999999" y2="487" stroke="#a2293f" stroke-width="1.1"/>
<line x1="146.6" y1="468" x2="146.6" y2="482.5" stroke="#a2293f" stroke-width="1.1"/>
<line x1="143.5" y1="468" x2="149.7" y2="468" stroke="#a2293f" stroke-width="1.1"/>
<line x1="143.5" y1="482.5" x2="149.7" y2="482.5" stroke="#a2293f" stroke-width="1.1"/>
<line x1="179.7" y1="483" x2="179.7" y2="494" stroke="#a2293f" stroke-width="1.1"/>
<line x1="176.6" y1="483" x2="182.79999999999998" y2="483" stroke="#a2293f" stroke-width="1.1"/>
<line x1="176.6" y1="494" x2="182.79999999999998" y2="494" stroke="#a2293f" stroke-width="1.1"/>
<line x1="212.9" y1="468.7" x2="212.9" y2="477.8" stroke="#a2293f" stroke-width="1.1"/>
<line x1="209.8" y1="468.7" x2="216.0" y2="468.7" stroke="#a2293f" stroke-width="1.1"/>
<line x1="209.8" y1="477.8" x2="216.0" y2="477.8" stroke="#a2293f" stroke-width="1.1"/>
<circle cx="80" cy="470.5" r="3.3" fill="#fff" fill-opacity="0.6" stroke="#3b5b88" stroke-width="1.2"/>
<line x1="77.6" y1="470.5" x2="82.4" y2="470.5" stroke="#3b5b88" stroke-width="0.6"/>
<circle cx="113.3" cy="474.6" r="3.3" fill="#fff" fill-opacity="0.6" stroke="#3b5b88" stroke-width="1.2"/>
<line x1="110.89999999999999" y1="474.6" x2="115.7" y2="474.6" stroke="#3b5b88" stroke-width="0.6"/>
<circle cx="146.6" cy="467.3" r="3.3" fill="#fff" fill-opacity="0.6" stroke="#3b5b88" stroke-width="1.2"/>
<line x1="144.2" y1="467.3" x2="149.0" y2="467.3" stroke="#3b5b88" stroke-width="0.6"/>
<circle cx="179.7" cy="467.9" r="3.3" fill="#fff" fill-opacity="0.6" stroke="#3b5b88" stroke-width="1.2"/>
<line x1="177.29999999999998" y1="467.9" x2="182.1" y2="467.9" stroke="#3b5b88" stroke-width="0.6"/>
<circle cx="212.9" cy="464.4" r="3.3" fill="#fff" fill-opacity="0.6" stroke="#3b5b88" stroke-width="1.2"/>
<line x1="210.5" y1="464.4" x2="215.3" y2="464.4" stroke="#3b5b88" stroke-width="0.6"/>
<circle cx="80" cy="477" r="3.5" fill="#a2293f"/>
<circle cx="113.3" cy="483.2" r="3.5" fill="#a2293f"/>
<circle cx="146.6" cy="475.2" r="3.5" fill="#a2293f"/>
<circle cx="179.7" cy="488.9" r="3.5" fill="#a2293f"/>
<circle cx="212.9" cy="472.5" r="3.5" fill="#a2293f"/>
<line x1="80" y1="468.5" x2="80" y2="472.5" stroke="#222" stroke-width="1.1"/>
<line x1="76.9" y1="468.5" x2="83.1" y2="468.5" stroke="#222" stroke-width="1.1"/>
<line x1="76.9" y1="472.5" x2="83.1" y2="472.5" stroke="#222" stroke-width="1.1"/>
<line x1="113.3" y1="469.8" x2="113.3" y2="479.5" stroke="#222" stroke-width="1.1"/>
<line x1="110.2" y1="469.8" x2="116.39999999999999" y2="469.8" stroke="#222" stroke-width="1.1"/>
<line x1="110.2" y1="479.5" x2="116.39999999999999" y2="479.5" stroke="#222" stroke-width="1.1"/>
<line x1="146.6" y1="461.2" x2="146.6" y2="473.5" stroke="#222" stroke-width="1.1"/>
<line x1="143.5" y1="461.2" x2="149.7" y2="461.2" stroke="#222" stroke-width="1.1"/>
<line x1="143.5" y1="473.5" x2="149.7" y2="473.5" stroke="#222" stroke-width="1.1"/>
<line x1="179.7" y1="463.8" x2="179.7" y2="472" stroke="#222" stroke-width="1.1"/>
<line x1="176.6" y1="463.8" x2="182.79999999999998" y2="463.8" stroke="#222" stroke-width="1.1"/>
<line x1="176.6" y1="472" x2="182.79999999999998" y2="472" stroke="#222" stroke-width="1.1"/>
<line x1="212.9" y1="458.5" x2="212.9" y2="469.8" stroke="#222" stroke-width="1.1"/>
<line x1="209.8" y1="458.5" x2="216.0" y2="458.5" stroke="#222" stroke-width="1.1"/>
<line x1="209.8" y1="469.8" x2="216.0" y2="469.8" stroke="#222" stroke-width="1.1"/>
<line x1="140.4" y1="425.3" x2="152.5" y2="425.3" stroke="#a2293f" stroke-width="1.5"/>
<circle cx="146.5" cy="425.3" r="3.3" fill="#a2293f"/>
<text x="156.6" y="427.6" font-size="8.8" textLength="25.4" lengthAdjust="spacingAndGlyphs" fill="#222">control</text>
<line x1="140.4" y1="441" x2="152.5" y2="441" stroke="#3b5b88" stroke-width="1.5" stroke-dasharray="2.5 1.5"/>
<circle cx="146.5" cy="441" r="2.8" fill="#fff" stroke="#3b5b88" stroke-width="1"/>
<text x="156.6" y="442.7" font-size="8.8" textLength="13.25" lengthAdjust="spacingAndGlyphs" fill="#222">Eng</text>
<text x="170.75" y="438.59999999999997" font-size="6.0" textLength="6.85" lengthAdjust="spacingAndGlyphs" fill="#222">fl/Δ</text>
<text x="177.9" y="442.7" font-size="8.8" fill="#222">;</text>
<text x="180.75" y="442.7" font-size="8.8" textLength="30.6" lengthAdjust="spacingAndGlyphs" fill="#222">Mx1-Cre</text>
<text x="212.1" y="438.59999999999997" font-size="6.0" fill="#222">+</text>
<text x="292.0" y="413.8" font-size="12.5" fill="#1a1a1a">F</text>
<line x1="342.5" y1="418.75" x2="342.5" y2="532.9" stroke="#111" stroke-width="1.1"/>
<line x1="342.0" y1="532.4" x2="508.4" y2="532.4" stroke="#111" stroke-width="1.1"/>
<line x1="339.0" y1="421.90000000000003" x2="342.5" y2="421.90000000000003" stroke="#111" stroke-width="0.9"/>
<text x="336.0" y="425.00000000000006" font-size="8.8" text-anchor="end" fill="#222">15</text>
<line x1="339.0" y1="458.8" x2="342.5" y2="458.8" stroke="#111" stroke-width="0.9"/>
<text x="336.0" y="461.90000000000003" font-size="8.8" text-anchor="end" fill="#222">10</text>
<line x1="339.0" y1="495.70000000000005" x2="342.5" y2="495.70000000000005" stroke="#111" stroke-width="0.9"/>
<text x="336.0" y="498.80000000000007" font-size="8.8" text-anchor="end" fill="#222">5</text>
<line x1="359" y1="532.4" x2="359" y2="535.6999999999999" stroke="#111" stroke-width="0.9"/>
<text x="359" y="547.9" font-size="8.8" text-anchor="middle" fill="#222">14</text>
<line x1="392.3" y1="532.4" x2="392.3" y2="535.6999999999999" stroke="#111" stroke-width="0.9"/>
<text x="392.3" y="547.9" font-size="8.8" text-anchor="middle" fill="#222">28</text>
<line x1="425.6" y1="532.4" x2="425.6" y2="535.6999999999999" stroke="#111" stroke-width="0.9"/>
<text x="425.6" y="547.9" font-size="8.8" text-anchor="middle" fill="#222">42</text>
<line x1="459.3" y1="532.4" x2="459.3" y2="535.6999999999999" stroke="#111" stroke-width="0.9"/>
<text x="459.3" y="547.9" font-size="8.8" text-anchor="middle" fill="#222">56</text>
<line x1="492" y1="532.4" x2="492" y2="535.6999999999999" stroke="#111" stroke-width="0.9"/>
<text x="492" y="547.9" font-size="8.8" text-anchor="middle" fill="#222">70</text>
<text x="359" y="562.6" font-size="10.5" textLength="133" lengthAdjust="spacingAndGlyphs" fill="#111">Days after last pIpC injection</text>
<text x="0" y="0" font-size="10.5" fill="#111" transform="translate(319.2 503.9) rotate(-90)" textLength="57.5" lengthAdjust="spacingAndGlyphs">RBC in M/μL</text>
<path d="M359 470 L392.3 465.2 L425.6 469.4 L459.3 467.8 L492 468.4" fill="none" stroke="#3b5b88" stroke-width="1.6" stroke-dasharray="3.6 2.1"/>
<path d="M359 455.7 L392.3 459.6 L425.6 469.4 L459.3 472.7 L492 461.9" fill="none" stroke="#a2293f" stroke-width="1.7"/>
<line x1="392.3" y1="456" x2="392.3" y2="463" stroke="#a2293f" stroke-width="1.1"/>
<line x1="389.2" y1="456" x2="395.40000000000003" y2="456" stroke="#a2293f" stroke-width="1.1"/>
<line x1="389.2" y1="463" x2="395.40000000000003" y2="463" stroke="#a2293f" stroke-width="1.1"/>
<line x1="425.6" y1="465" x2="425.6" y2="473.5" stroke="#a2293f" stroke-width="1.1"/>
<line x1="422.5" y1="465" x2="428.70000000000005" y2="465" stroke="#a2293f" stroke-width="1.1"/>
<line x1="422.5" y1="473.5" x2="428.70000000000005" y2="473.5" stroke="#a2293f" stroke-width="1.1"/>
<line x1="459.3" y1="467.5" x2="459.3" y2="478" stroke="#a2293f" stroke-width="1.1"/>
<line x1="456.2" y1="467.5" x2="462.40000000000003" y2="467.5" stroke="#a2293f" stroke-width="1.1"/>
<line x1="456.2" y1="478" x2="462.40000000000003" y2="478" stroke="#a2293f" stroke-width="1.1"/>
<circle cx="359" cy="470" r="3.3" fill="#fff" fill-opacity="0.6" stroke="#3b5b88" stroke-width="1.2"/>
<line x1="356.6" y1="470" x2="361.4" y2="470" stroke="#3b5b88" stroke-width="0.6"/>
<circle cx="392.3" cy="465.2" r="3.3" fill="#fff" fill-opacity="0.6" stroke="#3b5b88" stroke-width="1.2"/>
<line x1="389.90000000000003" y1="465.2" x2="394.7" y2="465.2" stroke="#3b5b88" stroke-width="0.6"/>
<circle cx="425.6" cy="469.4" r="3.3" fill="#fff" fill-opacity="0.6" stroke="#3b5b88" stroke-width="1.2"/>
<line x1="423.20000000000005" y1="469.4" x2="428.0" y2="469.4" stroke="#3b5b88" stroke-width="0.6"/>
<circle cx="459.3" cy="467.8" r="3.3" fill="#fff" fill-opacity="0.6" stroke="#3b5b88" stroke-width="1.2"/>
<line x1="456.90000000000003" y1="467.8" x2="461.7" y2="467.8" stroke="#3b5b88" stroke-width="0.6"/>
<circle cx="492" cy="468.4" r="3.3" fill="#fff" fill-opacity="0.6" stroke="#3b5b88" stroke-width="1.2"/>
<line x1="489.6" y1="468.4" x2="494.4" y2="468.4" stroke="#3b5b88" stroke-width="0.6"/>
<circle cx="359" cy="455.7" r="3.5" fill="#a2293f"/>
<circle cx="392.3" cy="459.6" r="3.5" fill="#a2293f"/>
<circle cx="425.6" cy="469.4" r="3.5" fill="#a2293f"/>
<circle cx="459.3" cy="472.7" r="3.5" fill="#a2293f"/>
<circle cx="492" cy="461.9" r="3.5" fill="#a2293f"/>
<line x1="359" y1="466" x2="359" y2="474" stroke="#222" stroke-width="1.1"/>
<line x1="355.9" y1="466" x2="362.1" y2="466" stroke="#222" stroke-width="1.1"/>
<line x1="355.9" y1="474" x2="362.1" y2="474" stroke="#222" stroke-width="1.1"/>
<line x1="392.3" y1="461.5" x2="392.3" y2="469" stroke="#222" stroke-width="1.1"/>
<line x1="389.2" y1="461.5" x2="395.40000000000003" y2="461.5" stroke="#222" stroke-width="1.1"/>
<line x1="389.2" y1="469" x2="395.40000000000003" y2="469" stroke="#222" stroke-width="1.1"/>
<line x1="425.6" y1="466" x2="425.6" y2="472.5" stroke="#222" stroke-width="1.1"/>
<line x1="422.5" y1="466" x2="428.70000000000005" y2="466" stroke="#222" stroke-width="1.1"/>
<line x1="422.5" y1="472.5" x2="428.70000000000005" y2="472.5" stroke="#222" stroke-width="1.1"/>
<text x="8.7" y="581.3" font-size="12.5" fill="#1a1a1a">G</text>
<line x1="63.75" y1="586.25" x2="63.75" y2="699.8" stroke="#111" stroke-width="1.1"/>
<line x1="63.25" y1="699.3" x2="227.9" y2="699.3" stroke="#111" stroke-width="1.1"/>
<line x1="60.25" y1="588.8000000000001" x2="63.75" y2="588.8000000000001" stroke="#111" stroke-width="0.9"/>
<text x="57.25" y="591.9000000000001" font-size="8.8" text-anchor="end" fill="#222">1500</text>
<line x1="60.25" y1="625.9" x2="63.75" y2="625.9" stroke="#111" stroke-width="0.9"/>
<text x="57.25" y="629.0" font-size="8.8" text-anchor="end" fill="#222">1000</text>
<line x1="60.25" y1="663.0" x2="63.75" y2="663.0" stroke="#111" stroke-width="0.9"/>
<text x="57.25" y="666.1" font-size="8.8" text-anchor="end" fill="#222">500</text>
<line x1="79.7" y1="699.3" x2="79.7" y2="702.5999999999999" stroke="#111" stroke-width="0.9"/>
<text x="79.7" y="714.2" font-size="8.8" text-anchor="middle" fill="#222">14</text>
<line x1="112.6" y1="699.3" x2="112.6" y2="702.5999999999999" stroke="#111" stroke-width="0.9"/>
<text x="112.6" y="714.2" font-size="8.8" text-anchor="middle" fill="#222">28</text>
<line x1="145.5" y1="699.3" x2="145.5" y2="702.5999999999999" stroke="#111" stroke-width="0.9"/>
<text x="145.5" y="714.2" font-size="8.8" text-anchor="middle" fill="#222">42</text>
<line x1="178.4" y1="699.3" x2="178.4" y2="702.5999999999999" stroke="#111" stroke-width="0.9"/>
<text x="178.4" y="714.2" font-size="8.8" text-anchor="middle" fill="#222">56</text>
<line x1="211.3" y1="699.3" x2="211.3" y2="702.5999999999999" stroke="#111" stroke-width="0.9"/>
<text x="211.3" y="714.2" font-size="8.8" text-anchor="middle" fill="#222">70</text>
<text x="79" y="728.8" font-size="10.5" textLength="133.3" lengthAdjust="spacingAndGlyphs" fill="#111">Days after last pIpC injection</text>
<text x="0" y="0" font-size="10.5" fill="#111" transform="translate(29.8 669) rotate(-90)" textLength="52.5" lengthAdjust="spacingAndGlyphs">PLT in K/μL</text>
<path d="M79.7 635.3 L112.6 646.7 L145.5 639.1 L178.4 640.8 L211.3 642.9" fill="none" stroke="#3b5b88" stroke-width="1.6" stroke-dasharray="3.6 2.1"/>
<path d="M79.7 627.7 L112.6 645.7 L145.5 634.6 L178.4 642.2 L211.3 628.4" fill="none" stroke="#a2293f" stroke-width="1.7"/>
<line x1="112.6" y1="638.8" x2="112.6" y2="653.6" stroke="#a2293f" stroke-width="1.1"/>
<line x1="109.5" y1="638.8" x2="115.69999999999999" y2="638.8" stroke="#a2293f" stroke-width="1.1"/>
<line x1="109.5" y1="653.6" x2="115.69999999999999" y2="653.6" stroke="#a2293f" stroke-width="1.1"/>
<line x1="145.5" y1="627.7" x2="145.5" y2="641" stroke="#a2293f" stroke-width="1.1"/>
<line x1="142.4" y1="627.7" x2="148.6" y2="627.7" stroke="#a2293f" stroke-width="1.1"/>
<line x1="142.4" y1="641" x2="148.6" y2="641" stroke="#a2293f" stroke-width="1.1"/>
<line x1="178.4" y1="636.5" x2="178.4" y2="648.5" stroke="#a2293f" stroke-width="1.1"/>
<line x1="175.3" y1="636.5" x2="181.5" y2="636.5" stroke="#a2293f" stroke-width="1.1"/>
<line x1="175.3" y1="648.5" x2="181.5" y2="648.5" stroke="#a2293f" stroke-width="1.1"/>
<line x1="211.3" y1="624.5" x2="211.3" y2="632.5" stroke="#a2293f" stroke-width="1.1"/>
<line x1="208.20000000000002" y1="624.5" x2="214.4" y2="624.5" stroke="#a2293f" stroke-width="1.1"/>
<line x1="208.20000000000002" y1="632.5" x2="214.4" y2="632.5" stroke="#a2293f" stroke-width="1.1"/>
<circle cx="79.7" cy="635.3" r="3.3" fill="#fff" fill-opacity="0.6" stroke="#3b5b88" stroke-width="1.2"/>
<line x1="77.3" y1="635.3" x2="82.10000000000001" y2="635.3" stroke="#3b5b88" stroke-width="0.6"/>
<circle cx="112.6" cy="646.7" r="3.3" fill="#fff" fill-opacity="0.6" stroke="#3b5b88" stroke-width="1.2"/>
<line x1="110.19999999999999" y1="646.7" x2="115.0" y2="646.7" stroke="#3b5b88" stroke-width="0.6"/>
<circle cx="145.5" cy="639.1" r="3.3" fill="#fff" fill-opacity="0.6" stroke="#3b5b88" stroke-width="1.2"/>
<line x1="143.1" y1="639.1" x2="147.9" y2="639.1" stroke="#3b5b88" stroke-width="0.6"/>
<circle cx="178.4" cy="640.8" r="3.3" fill="#fff" fill-opacity="0.6" stroke="#3b5b88" stroke-width="1.2"/>
<line x1="176.0" y1="640.8" x2="180.8" y2="640.8" stroke="#3b5b88" stroke-width="0.6"/>
<circle cx="211.3" cy="642.9" r="3.3" fill="#fff" fill-opacity="0.6" stroke="#3b5b88" stroke-width="1.2"/>
<line x1="208.9" y1="642.9" x2="213.70000000000002" y2="642.9" stroke="#3b5b88" stroke-width="0.6"/>
<circle cx="79.7" cy="627.7" r="3.5" fill="#a2293f"/>
<circle cx="112.6" cy="645.7" r="3.5" fill="#a2293f"/>
<circle cx="145.5" cy="634.6" r="3.5" fill="#a2293f"/>
<circle cx="178.4" cy="642.2" r="3.5" fill="#a2293f"/>
<circle cx="211.3" cy="628.4" r="3.5" fill="#a2293f"/>
<line x1="79.7" y1="631" x2="79.7" y2="640" stroke="#222" stroke-width="1.1"/>
<line x1="76.60000000000001" y1="631" x2="82.8" y2="631" stroke="#222" stroke-width="1.1"/>
<line x1="76.60000000000001" y1="640" x2="82.8" y2="640" stroke="#222" stroke-width="1.1"/>
<line x1="112.6" y1="640" x2="112.6" y2="651" stroke="#222" stroke-width="1.1"/>
<line x1="109.5" y1="640" x2="115.69999999999999" y2="640" stroke="#222" stroke-width="1.1"/>
<line x1="109.5" y1="651" x2="115.69999999999999" y2="651" stroke="#222" stroke-width="1.1"/>
<line x1="145.5" y1="633.5" x2="145.5" y2="644" stroke="#222" stroke-width="1.1"/>
<line x1="142.4" y1="633.5" x2="148.6" y2="633.5" stroke="#222" stroke-width="1.1"/>
<line x1="142.4" y1="644" x2="148.6" y2="644" stroke="#222" stroke-width="1.1"/>
<line x1="178.4" y1="636" x2="178.4" y2="646" stroke="#222" stroke-width="1.1"/>
<line x1="175.3" y1="636" x2="181.5" y2="636" stroke="#222" stroke-width="1.1"/>
<line x1="175.3" y1="646" x2="181.5" y2="646" stroke="#222" stroke-width="1.1"/>
<line x1="211.3" y1="634" x2="211.3" y2="651.2" stroke="#222" stroke-width="1.1"/>
<line x1="208.20000000000002" y1="634" x2="214.4" y2="634" stroke="#222" stroke-width="1.1"/>
<line x1="208.20000000000002" y1="651.2" x2="214.4" y2="651.2" stroke="#222" stroke-width="1.1"/>
<text x="291.8" y="581.5" font-size="12.5" fill="#1a1a1a">H</text>
<line x1="342.3" y1="586.6" x2="342.3" y2="699.9" stroke="#111" stroke-width="1.1"/>
<line x1="341.8" y1="699.3" x2="509.5" y2="699.3" stroke="#111" stroke-width="1.1"/>
<line x1="338.8" y1="588.9" x2="342.3" y2="588.9" stroke="#111" stroke-width="0.9"/>
<text x="336.5" y="592.0" font-size="8.8" text-anchor="end" fill="#222">100</text>
<line x1="338.8" y1="611.0" x2="342.3" y2="611.0" stroke="#111" stroke-width="0.9"/>
<text x="336.5" y="614.1" font-size="8.8" text-anchor="end" fill="#222">80</text>
<line x1="338.8" y1="633.1" x2="342.3" y2="633.1" stroke="#111" stroke-width="0.9"/>
<text x="336.5" y="636.2" font-size="8.8" text-anchor="end" fill="#222">60</text>
<line x1="338.8" y1="655.1999999999999" x2="342.3" y2="655.1999999999999" stroke="#111" stroke-width="0.9"/>
<text x="336.5" y="658.3" font-size="8.8" text-anchor="end" fill="#222">40</text>
<line x1="338.8" y1="677.3" x2="342.3" y2="677.3" stroke="#111" stroke-width="0.9"/>
<text x="336.5" y="680.4" font-size="8.8" text-anchor="end" fill="#222">20</text>
<line x1="342.3" y1="699.3" x2="342.3" y2="702.3" stroke="#111" stroke-width="0.9"/>
<text x="342.3" y="714.3" font-size="8.8" text-anchor="middle" fill="#222">0</text>
<line x1="396.8" y1="699.3" x2="396.8" y2="702.3" stroke="#111" stroke-width="0.9"/>
<text x="396.8" y="714.3" font-size="8.8" text-anchor="middle" fill="#222">10</text>
<line x1="451.3" y1="699.3" x2="451.3" y2="702.3" stroke="#111" stroke-width="0.9"/>
<text x="451.3" y="714.3" font-size="8.8" text-anchor="middle" fill="#222">20</text>
<line x1="505.8" y1="699.3" x2="505.8" y2="702.3" stroke="#111" stroke-width="0.9"/>
<text x="505.8" y="714.3" font-size="8.8" text-anchor="middle" fill="#222">30</text>
<text x="355.7" y="729.3" font-size="10.5" textLength="140.6" lengthAdjust="spacingAndGlyphs" fill="#111">Weeks after last pIpC injection</text>
<text x="0" y="0" font-size="10.5" fill="#111" transform="translate(315.2 685.4) rotate(-90)" textLength="86" lengthAdjust="spacingAndGlyphs">Percent of survival</text>
<path d="M435.75000000000006 603.265 L457.5 603.265 L457.5 617.63" fill="none" stroke="#3b5b88" stroke-width="1.4" stroke-dasharray="3.2 2"/>
<path d="M342.3 588.9 L434.95000000000005 588.9 L434.95000000000005 617.63 L506.3 617.63" fill="none" stroke="#a2293f" stroke-width="1.6"/>
<line x1="506.3" y1="618.23" x2="506.3" y2="613.43" stroke="#a2293f" stroke-width="1.2"/>
<line x1="415" y1="664.5" x2="430.5" y2="664.5" stroke="#a2293f" stroke-width="1.5"/>
<line x1="422.7" y1="664.5" x2="422.7" y2="661" stroke="#a2293f" stroke-width="1.1"/>
<text x="434.7" y="666.9" font-size="8.8" textLength="25.5" lengthAdjust="spacingAndGlyphs" fill="#222">control</text>
<line x1="415.2" y1="681.6" x2="418.7" y2="681.6" stroke="#3b5b88" stroke-width="1.3"/>
<line x1="420.5" y1="681.6" x2="425.5" y2="681.6" stroke="#3b5b88" stroke-width="1.3"/>
<line x1="427.3" y1="681.6" x2="430.8" y2="681.6" stroke="#3b5b88" stroke-width="1.3"/>
<line x1="423.0" y1="681.6" x2="423.0" y2="678.2" stroke="#3b5b88" stroke-width="1.1"/>
<text x="434.7" y="684.2" font-size="8.8" textLength="13.25" lengthAdjust="spacingAndGlyphs" fill="#222">Eng</text>
<text x="448.84999999999997" y="680.1" font-size="6.0" textLength="6.85" lengthAdjust="spacingAndGlyphs" fill="#222">fl/Δ</text>
<text x="456.0" y="684.2" font-size="8.8" fill="#222">;</text>
<text x="458.84999999999997" y="684.2" font-size="8.8" textLength="30.6" lengthAdjust="spacingAndGlyphs" fill="#222">Mx1-Cre</text>
<text x="490.2" y="680.1" font-size="6.0" fill="#222">+</text>
<rect x="0" y="0" width="520" height="1.7" fill="#575757"/>
<rect x="0" y="0" width="1.6" height="741" fill="#575757"/>
<rect x="518.1" y="0" width="1.9" height="741" fill="#575757"/>
<rect x="0" y="739.8" width="520" height="1.2" fill="#141414"/>
</svg></body></html>
